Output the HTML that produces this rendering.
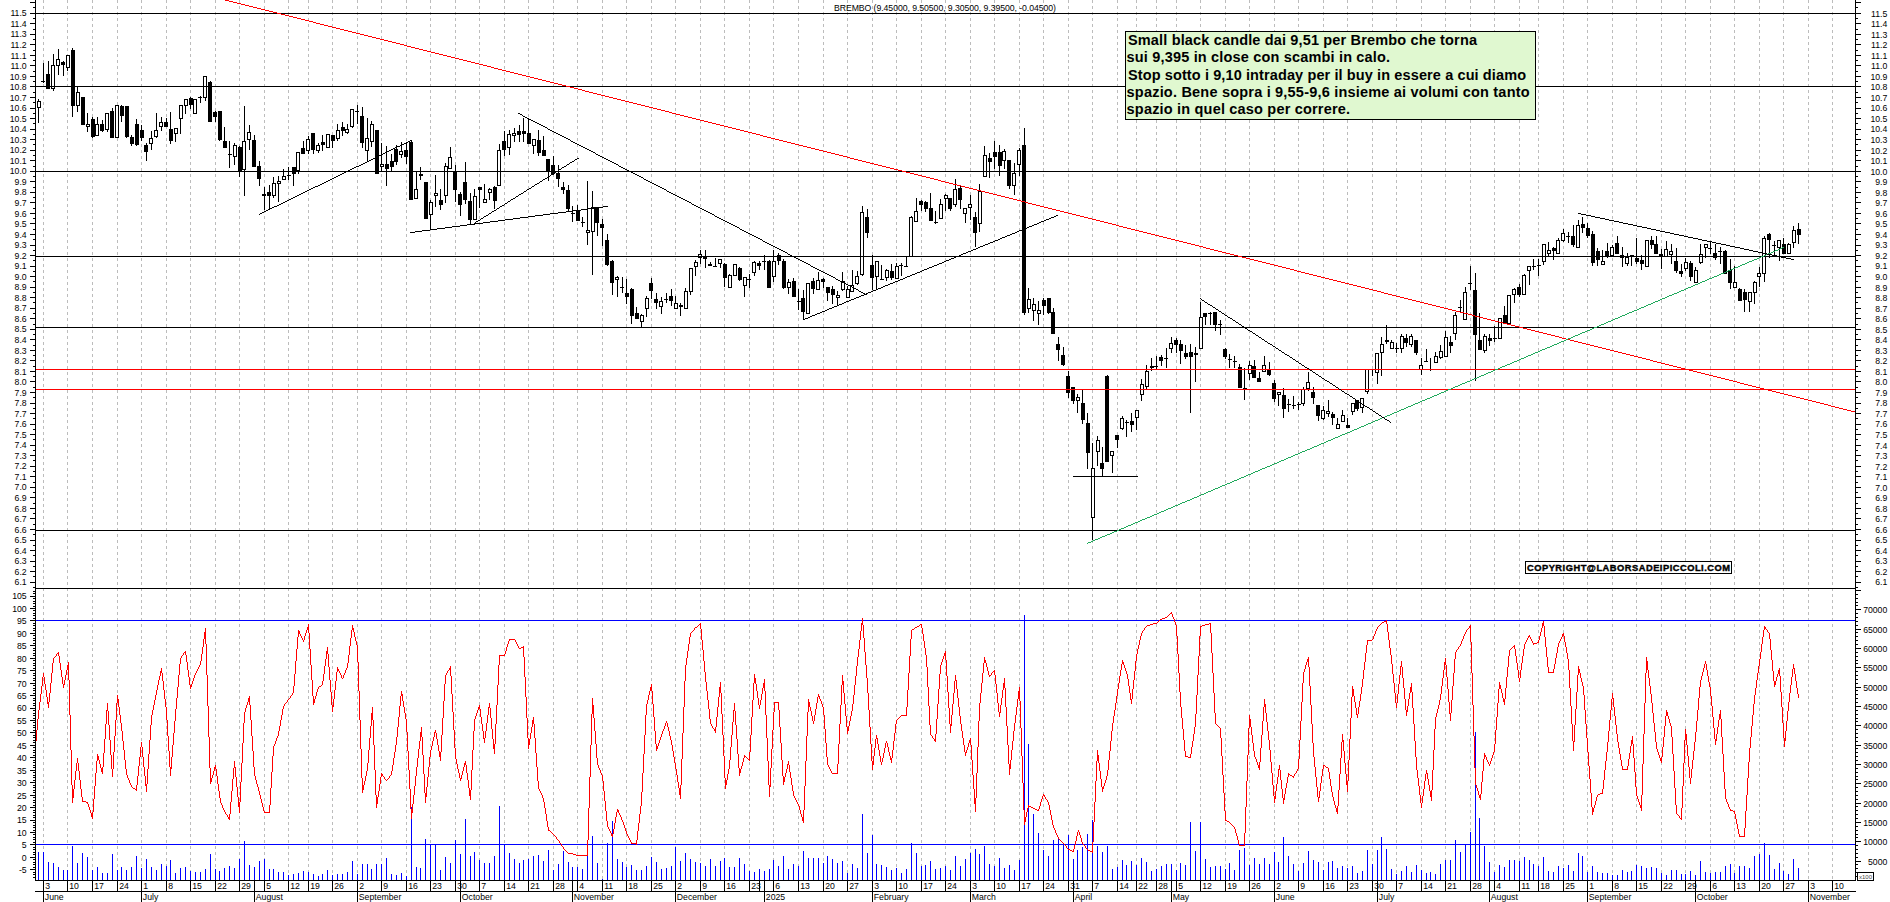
<!DOCTYPE html>
<html><head><meta charset="utf-8"><title>BREMBO</title>
<style>
html,body{margin:0;padding:0;background:#fff;overflow:hidden}
svg{display:block}
text{font-family:"Liberation Sans",Arial,sans-serif}
.ax text,text.ax{font-size:8.7px;fill:#000}
.tb{font-size:14.5px;font-weight:bold;fill:#000}
.cp{font-size:9.3px;font-weight:bold;fill:#000;stroke:#000;stroke-width:0.4}
</style></head><body>
<svg width="1890" height="902" viewBox="0 0 1890 902" shape-rendering="crispEdges">
<rect width="1890" height="902" fill="#fff"/>
<path d="M43.5 0V880 M67.5 0V880 M92.5 0V880 M117.5 0V880 M141.5 0V880 M166.5 0V880 M190.5 0V880 M215.5 0V880 M239.5 0V880 M264.5 0V880 M288.5 0V880 M308.5 0V880 M332.5 0V880 M357.5 0V880 M381.5 0V880 M406.5 0V880 M430.5 0V880 M455.5 0V880 M479.5 0V880 M504.5 0V880 M528.5 0V880 M553.5 0V880 M577.5 0V880 M602.5 0V880 M626.5 0V880 M651.5 0V880 M675.5 0V880 M700.5 0V880 M724.5 0V880 M749.5 0V880 M773.5 0V880 M798.5 0V880 M823.5 0V880 M847.5 0V880 M872.5 0V880 M896.5 0V880 M921.5 0V880 M945.5 0V880 M970.5 0V880 M994.5 0V880 M1019.5 0V880 M1043.5 0V880 M1068.5 0V880 M1092.5 0V880 M1117.5 0V880 M1136.5 0V880 M1156.5 0V880 M1176.5 0V880 M1200.5 0V880 M1225.5 0V880 M1249.5 0V880 M1274.5 0V880 M1298.5 0V880 M1323.5 0V880 M1347.5 0V880 M1372.5 0V880 M1396.5 0V880 M1421.5 0V880 M1445.5 0V880 M1470.5 0V880 M1494.5 0V880 M1519.5 0V880 M1538.5 0V880 M1563.5 0V880 M1587.5 0V880 M1612.5 0V880 M1636.5 0V880 M1661.5 0V880 M1685.5 0V880 M1710.5 0V880 M1734.5 0V880 M1759.5 0V880 M1783.5 0V880 M1808.5 0V880 M1832.5 0V880" stroke="#bcbcbc" stroke-width="1" stroke-dasharray="3 3" fill="none"/>
<path d="M38 99h1v24h-1zM43 63h1v20h-1zM48 61h1v28h-1zM53 54h1v37h-1zM58 49h1v26h-1zM63 61h1v15h-1zM67 55h1v16h-1zM72 48h1v69h-1zM77 87h1v25h-1zM82 97h1v28h-1zM87 113h1v19h-1zM92 117h1v21h-1zM97 117h1v19h-1zM102 120h1v12h-1zM107 113h1v19h-1zM112 108h1v30h-1zM117 105h1v33h-1zM121 105h1v17h-1zM126 106h1v32h-1zM131 135h1v11h-1zM136 119h1v27h-1zM141 125h1v16h-1zM146 143h1v18h-1zM151 131h1v19h-1zM156 113h1v25h-1zM161 117h1v14h-1zM166 118h1v9h-1zM170 112h1v32h-1zM175 128h1v14h-1zM180 105h1v29h-1zM185 99h1v15h-1zM190 97h1v12h-1zM195 99h1v15h-1zM200 96h1v7h-1zM205 76h1v25h-1zM210 81h1v41h-1zM215 111h1v11h-1zM219 111h1v30h-1zM224 127h1v21h-1zM229 141h1v27h-1zM234 143h1v22h-1zM239 146h1v31h-1zM244 106h1v90h-1zM249 125h1v25h-1zM254 135h1v32h-1zM259 161h1v25h-1zM264 187h1v23h-1zM269 185h1v25h-1zM273 177h1v21h-1zM278 176h1v26h-1zM283 169h1v11h-1zM288 167h1v13h-1zM293 167h1v19h-1zM298 152h1v22h-1zM303 141h1v13h-1zM308 136h1v18h-1zM313 133h1v21h-1zM318 143h1v10h-1zM322 135h1v16h-1zM327 134h1v14h-1zM332 135h1v13h-1zM337 124h1v17h-1zM342 122h1v14h-1zM347 124h1v10h-1zM352 109h1v19h-1zM357 105h1v19h-1zM362 107h1v41h-1zM367 118h1v44h-1zM371 121h1v26h-1zM376 130h1v44h-1zM381 143h1v29h-1zM386 146h1v40h-1zM391 154h1v18h-1zM396 145h1v20h-1zM401 142h1v16h-1zM406 142h1v22h-1zM411 140h1v60h-1zM416 171h1v28h-1zM420 167h1v13h-1zM425 182h1v37h-1zM430 200h1v29h-1zM435 175h1v32h-1zM440 189h1v21h-1zM445 163h1v40h-1zM450 147h1v22h-1zM455 165h1v37h-1zM460 192h1v24h-1zM465 162h1v42h-1zM470 193h1v31h-1zM474 189h1v31h-1zM479 187h1v21h-1zM484 184h1v19h-1zM489 188h1v12h-1zM494 186h1v23h-1zM499 144h1v42h-1zM504 131h1v25h-1zM509 130h1v25h-1zM514 128h1v14h-1zM519 125h1v17h-1zM523 118h1v24h-1zM528 118h1v26h-1zM533 139h1v15h-1zM538 130h1v26h-1zM543 136h1v20h-1zM548 159h1v22h-1zM553 156h1v19h-1zM558 165h1v22h-1zM563 182h1v12h-1zM568 185h1v27h-1zM572 206h1v16h-1zM577 205h1v16h-1zM582 217h1v10h-1zM587 181h1v64h-1zM592 191h1v84h-1zM597 207h1v29h-1zM602 219h1v27h-1zM607 234h1v32h-1zM612 260h1v35h-1zM617 276h1v21h-1zM622 277h1v16h-1zM626 279h1v25h-1zM631 288h1v36h-1zM636 307h1v12h-1zM641 314h1v13h-1zM646 296h1v21h-1zM651 278h1v21h-1zM656 293h1v16h-1zM661 297h1v17h-1zM666 293h1v10h-1zM671 289h1v17h-1zM675 296h1v13h-1zM680 303h1v13h-1zM685 288h1v21h-1zM690 268h1v27h-1zM695 260h1v16h-1zM700 250h1v14h-1zM705 250h1v18h-1zM710 262h1v4h-1zM715 258h1v9h-1zM720 259h1v9h-1zM724 263h1v24h-1zM729 274h1v14h-1zM734 264h1v12h-1zM739 267h1v14h-1zM744 277h1v20h-1zM749 274h1v14h-1zM754 261h1v15h-1zM759 261h1v9h-1zM764 255h1v15h-1zM769 260h1v28h-1zM773 250h1v32h-1zM778 253h1v12h-1zM783 259h1v30h-1zM788 279h1v15h-1zM793 278h1v19h-1zM798 289h1v21h-1zM803 290h1v30h-1zM808 283h1v31h-1zM813 278h1v16h-1zM818 272h1v18h-1zM823 278h1v10h-1zM827 287h1v14h-1zM832 286h1v18h-1zM837 291h1v15h-1zM842 272h1v19h-1zM847 286h1v12h-1zM852 270h1v22h-1zM857 271h1v14h-1zM862 206h1v70h-1zM867 209h1v29h-1zM872 255h1v35h-1zM876 261h1v29h-1zM881 265h1v15h-1zM886 269h1v12h-1zM891 264h1v16h-1zM896 263h1v16h-1zM901 263h1v13h-1zM906 256h1v11h-1zM911 216h1v41h-1zM916 198h1v24h-1zM921 200h1v11h-1zM925 201h1v11h-1zM930 193h1v28h-1zM935 211h1v13h-1zM940 199h1v20h-1zM945 194h1v17h-1zM950 198h1v13h-1zM955 179h1v28h-1zM960 186h1v23h-1zM965 208h1v15h-1zM970 195h1v25h-1zM975 212h1v35h-1zM979 184h1v48h-1zM984 146h1v31h-1zM989 153h1v25h-1zM994 141h1v28h-1zM999 145h1v31h-1zM1004 149h1v20h-1zM1009 160h1v29h-1zM1014 163h1v32h-1zM1019 148h1v28h-1zM1024 128h1v187h-1zM1028 288h1v25h-1zM1033 298h1v23h-1zM1038 301h1v24h-1zM1043 298h1v17h-1zM1048 298h1v16h-1zM1053 308h1v26h-1zM1058 337h1v24h-1zM1063 347h1v19h-1zM1068 371h1v27h-1zM1073 387h1v17h-1zM1077 394h1v19h-1zM1082 390h1v34h-1zM1087 413h1v56h-1zM1092 443h1v97h-1zM1097 436h1v30h-1zM1102 447h1v29h-1zM1107 375h1v87h-1zM1112 451h1v22h-1zM1117 435h1v13h-1zM1122 416h1v14h-1zM1126 420h1v17h-1zM1131 413h1v19h-1zM1136 410h1v20h-1zM1141 379h1v22h-1zM1146 365h1v24h-1zM1151 358h1v13h-1zM1156 356h1v14h-1zM1161 355h1v11h-1zM1166 348h1v20h-1zM1171 337h1v16h-1zM1176 338h1v15h-1zM1180 340h1v24h-1zM1185 345h1v14h-1zM1190 344h1v69h-1zM1195 347h1v35h-1zM1200 302h1v47h-1zM1205 313h1v12h-1zM1210 312h1v13h-1zM1215 312h1v19h-1zM1220 320h1v15h-1zM1225 348h1v11h-1zM1229 354h1v14h-1zM1234 356h1v12h-1zM1239 364h1v24h-1zM1244 368h1v32h-1zM1249 361h1v19h-1zM1254 360h1v18h-1zM1259 372h1v10h-1zM1264 356h1v16h-1zM1269 362h1v14h-1zM1274 380h1v22h-1zM1278 392h1v14h-1zM1283 388h1v30h-1zM1288 399h1v13h-1zM1293 396h1v13h-1zM1298 402h1v8h-1zM1303 387h1v19h-1zM1308 372h1v19h-1zM1313 387h1v17h-1zM1318 405h1v16h-1zM1323 406h1v14h-1zM1328 400h1v17h-1zM1332 412h1v13h-1zM1337 418h1v11h-1zM1342 410h1v12h-1zM1347 418h1v10h-1zM1352 403h1v12h-1zM1357 400h1v11h-1zM1362 398h1v15h-1zM1367 369h1v25h-1zM1372 369h1v7h-1zM1377 353h1v31h-1zM1381 337h1v39h-1zM1386 325h1v19h-1zM1391 340h1v9h-1zM1396 343h1v10h-1zM1401 334h1v19h-1zM1406 334h1v13h-1zM1411 334h1v13h-1zM1416 340h1v15h-1zM1421 358h1v17h-1zM1426 349h1v13h-1zM1430 358h1v13h-1zM1435 352h1v11h-1zM1440 345h1v14h-1zM1445 331h1v26h-1zM1450 336h1v17h-1zM1455 312h1v28h-1zM1460 300h1v13h-1zM1465 287h1v33h-1zM1470 266h1v24h-1zM1475 273h1v108h-1zM1479 313h1v37h-1zM1484 334h1v19h-1zM1489 334h1v12h-1zM1494 326h1v16h-1zM1499 318h1v21h-1zM1504 306h1v18h-1zM1509 295h1v29h-1zM1514 288h1v15h-1zM1519 284h1v13h-1zM1524 274h1v21h-1zM1529 266h1v19h-1zM1533 259h1v11h-1zM1538 259h1v17h-1zM1543 244h1v21h-1zM1548 242h1v14h-1zM1553 247h1v13h-1zM1558 238h1v16h-1zM1563 229h1v13h-1zM1568 232h1v11h-1zM1573 225h1v22h-1zM1578 220h1v28h-1zM1582 217h1v16h-1zM1587 223h1v15h-1zM1592 231h1v35h-1zM1597 248h1v18h-1zM1602 250h1v15h-1zM1607 243h1v15h-1zM1612 245h1v11h-1zM1617 236h1v18h-1zM1622 247h1v20h-1zM1627 253h1v13h-1zM1631 255h1v11h-1zM1636 238h1v26h-1zM1641 255h1v15h-1zM1646 240h1v27h-1zM1651 236h1v13h-1zM1656 236h1v18h-1zM1661 249h1v20h-1zM1666 241h1v16h-1zM1671 244h1v20h-1zM1676 248h1v25h-1zM1681 264h1v13h-1zM1685 258h1v13h-1zM1690 261h1v20h-1zM1695 267h1v16h-1zM1700 244h1v20h-1zM1705 244h1v14h-1zM1710 242h1v12h-1zM1715 244h1v16h-1zM1720 247h1v17h-1zM1725 250h1v24h-1zM1730 259h1v30h-1zM1734 266h1v22h-1zM1739 288h1v13h-1zM1744 289h1v23h-1zM1749 292h1v20h-1zM1754 281h1v23h-1zM1759 267h1v20h-1zM1764 236h1v46h-1zM1769 233h1v25h-1zM1774 241h1v15h-1zM1779 240h1v21h-1zM1783 238h1v16h-1zM1788 243h1v11h-1zM1793 226h1v22h-1zM1798 223h1v21h-1z" fill="#000"/>
<path d="M37 101h4v7h-4zM41 81h4v1h-4zM46 74h4v15h-4zM51 65h4v24h-4zM56 59h4v7h-4zM61 62h4v3h-4zM66 55h4v13h-4zM71 50h4v56h-4zM76 92h4v14h-4zM81 97h4v28h-4zM86 124h4v3h-4zM91 119h4v18h-4zM95 124h4v12h-4zM100 124h4v7h-4zM105 113h4v17h-4zM110 111h4v27h-4zM115 105h4v33h-4zM120 106h4v10h-4zM125 106h4v31h-4zM130 137h4v7h-4zM135 124h4v21h-4zM140 130h4v8h-4zM144 145h4v7h-4zM149 138h4v6h-4zM154 130h4v7h-4zM159 122h4v5h-4zM164 122h4v5h-4zM169 129h4v12h-4zM174 128h4v6h-4zM179 105h4v14h-4zM184 99h4v7h-4zM189 98h4v7h-4zM193 99h4v15h-4zM198 97h4v1h-4zM203 76h4v22h-4zM208 82h4v40h-4zM213 112h4v5h-4zM218 111h4v29h-4zM223 141h4v7h-4zM228 154h4v1h-4zM233 145h4v12h-4zM238 147h4v24h-4zM242 141h4v29h-4zM247 132h4v8h-4zM252 140h4v27h-4zM257 166h4v13h-4zM262 194h4v2h-4zM267 192h4v4h-4zM272 183h4v13h-4zM277 181h4v3h-4zM282 176h4v4h-4zM287 175h4v1h-4zM292 167h4v7h-4zM296 152h4v19h-4zM301 148h4v6h-4zM306 139h4v12h-4zM311 133h4v17h-4zM316 145h4v6h-4zM321 142h4v3h-4zM326 134h4v14h-4zM331 135h4v6h-4zM336 130h4v9h-4zM341 127h4v4h-4zM345 129h4v4h-4zM350 109h4v18h-4zM355 111h4v1h-4zM360 116h4v27h-4zM365 138h4v13h-4zM370 124h4v18h-4zM375 130h4v44h-4zM380 164h4v3h-4zM385 164h4v5h-4zM390 161h4v6h-4zM394 149h4v13h-4zM399 151h4v4h-4zM404 150h4v7h-4zM409 142h4v58h-4zM414 189h4v10h-4zM419 174h4v2h-4zM424 182h4v37h-4zM429 202h4v13h-4zM434 193h4v3h-4zM439 200h4v5h-4zM444 166h4v30h-4zM448 157h4v12h-4zM453 171h4v19h-4zM458 194h4v11h-4zM463 182h4v18h-4zM468 201h4v19h-4zM473 196h4v24h-4zM478 187h4v3h-4zM483 199h4v4h-4zM488 189h4v4h-4zM493 187h4v14h-4zM497 150h4v36h-4zM502 141h4v9h-4zM507 134h4v14h-4zM512 133h4v3h-4zM517 131h4v4h-4zM522 131h4v3h-4zM527 133h4v11h-4zM532 139h4v7h-4zM537 140h4v13h-4zM542 150h4v6h-4zM546 159h4v12h-4zM551 165h4v9h-4zM556 173h4v6h-4zM561 187h4v3h-4zM566 190h4v19h-4zM571 213h4v1h-4zM576 210h4v11h-4zM581 222h4v1h-4zM586 230h4v3h-4zM591 207h4v25h-4zM595 207h4v16h-4zM600 224h4v4h-4zM605 240h4v25h-4zM610 261h4v22h-4zM615 277h4v3h-4zM620 287h4v1h-4zM625 293h4v4h-4zM630 289h4v27h-4zM635 313h4v6h-4zM640 315h4v7h-4zM645 298h4v11h-4zM649 283h4v8h-4zM654 299h4v4h-4zM659 301h4v6h-4zM664 299h4v1h-4zM669 296h4v5h-4zM674 303h4v6h-4zM679 305h4v2h-4zM684 291h4v18h-4zM689 268h4v24h-4zM694 262h4v5h-4zM698 254h4v4h-4zM703 256h4v3h-4zM708 264h4v2h-4zM713 266h4v1h-4zM718 259h4v5h-4zM723 264h4v14h-4zM728 275h4v13h-4zM733 264h4v12h-4zM738 268h4v12h-4zM743 277h4v9h-4zM747 279h4v1h-4zM752 262h4v11h-4zM757 263h4v3h-4zM762 261h4v1h-4zM767 261h4v27h-4zM772 261h4v16h-4zM777 255h4v6h-4zM782 261h4v27h-4zM787 282h4v6h-4zM792 281h4v16h-4zM797 301h4v1h-4zM801 298h4v14h-4zM806 283h4v31h-4zM811 281h4v8h-4zM816 280h4v10h-4zM821 279h4v3h-4zM826 287h4v6h-4zM831 289h4v6h-4zM836 295h4v3h-4zM841 281h4v9h-4zM846 289h4v9h-4zM850 285h4v7h-4zM855 276h4v8h-4zM860 212h4v63h-4zM865 217h4v16h-4zM870 265h4v13h-4zM875 261h4v16h-4zM880 279h4v1h-4zM885 270h4v8h-4zM890 271h4v7h-4zM895 266h4v13h-4zM899 265h4v1h-4zM904 266h4v1h-4zM909 217h4v40h-4zM914 211h4v11h-4zM919 201h4v4h-4zM924 202h4v7h-4zM929 208h4v13h-4zM934 222h4v1h-4zM939 204h4v15h-4zM944 195h4v4h-4zM948 198h4v11h-4zM953 189h4v16h-4zM958 188h4v12h-4zM963 208h4v6h-4zM968 204h4v4h-4zM973 217h4v16h-4zM978 191h4v33h-4zM983 155h4v22h-4zM988 158h4v4h-4zM993 152h4v5h-4zM998 152h4v14h-4zM1002 151h4v10h-4zM1007 160h4v26h-4zM1012 173h4v13h-4zM1017 150h4v15h-4zM1022 145h4v168h-4zM1027 299h4v10h-4zM1032 304h4v7h-4zM1037 310h4v4h-4zM1042 300h4v6h-4zM1047 298h4v15h-4zM1051 312h4v22h-4zM1056 344h4v6h-4zM1061 355h4v10h-4zM1066 376h4v17h-4zM1071 387h4v14h-4zM1076 397h4v4h-4zM1081 403h4v17h-4zM1086 423h4v30h-4zM1091 468h4v50h-4zM1096 440h4v12h-4zM1100 463h4v6h-4zM1105 376h4v86h-4zM1110 451h4v5h-4zM1115 435h4v5h-4zM1120 418h4v11h-4zM1125 422h4v1h-4zM1130 421h4v4h-4zM1135 410h4v8h-4zM1140 384h4v11h-4zM1145 371h4v16h-4zM1150 366h4v2h-4zM1154 366h4v1h-4zM1159 357h4v4h-4zM1164 358h4v1h-4zM1169 343h4v6h-4zM1174 340h4v5h-4zM1179 344h4v7h-4zM1184 353h4v4h-4zM1189 352h4v5h-4zM1194 353h4v2h-4zM1199 317h4v32h-4zM1203 313h4v4h-4zM1208 313h4v1h-4zM1213 312h4v13h-4zM1218 324h4v1h-4zM1223 349h4v8h-4zM1228 359h4v1h-4zM1233 361h4v1h-4zM1238 367h4v21h-4zM1243 388h4v2h-4zM1248 365h4v9h-4zM1252 366h4v12h-4zM1257 378h4v4h-4zM1262 365h4v7h-4zM1267 369h4v6h-4zM1272 383h4v16h-4zM1277 392h4v3h-4zM1282 395h4v14h-4zM1287 404h4v1h-4zM1292 405h4v1h-4zM1297 404h4v1h-4zM1301 389h4v15h-4zM1306 382h4v7h-4zM1311 392h4v6h-4zM1316 405h4v11h-4zM1321 410h4v9h-4zM1326 411h4v3h-4zM1331 414h4v4h-4zM1336 424h4v5h-4zM1341 415h4v7h-4zM1346 425h4v3h-4zM1351 403h4v9h-4zM1355 400h4v9h-4zM1360 398h4v10h-4zM1365 369h4v23h-4zM1375 353h4v20h-4zM1380 344h4v9h-4zM1385 340h4v2h-4zM1390 342h4v7h-4zM1395 348h4v1h-4zM1400 336h4v13h-4zM1404 338h4v5h-4zM1409 336h4v9h-4zM1414 340h4v13h-4zM1419 365h4v5h-4zM1424 361h4v1h-4zM1434 356h4v7h-4zM1439 351h4v7h-4zM1444 337h4v20h-4zM1449 342h4v4h-4zM1453 315h4v19h-4zM1458 307h4v1h-4zM1463 292h4v28h-4zM1468 283h4v1h-4zM1473 290h4v45h-4zM1478 340h4v10h-4zM1483 336h4v15h-4zM1488 338h4v3h-4zM1493 338h4v1h-4zM1498 318h4v21h-4zM1503 315h4v8h-4zM1507 295h4v29h-4zM1512 289h4v6h-4zM1517 287h4v8h-4zM1522 275h4v20h-4zM1527 266h4v5h-4zM1532 266h4v1h-4zM1537 265h4v1h-4zM1542 244h4v18h-4zM1547 250h4v4h-4zM1552 248h4v3h-4zM1556 240h4v14h-4zM1561 233h4v8h-4zM1566 236h4v1h-4zM1571 236h4v9h-4zM1576 225h4v23h-4zM1581 224h4v4h-4zM1586 228h4v8h-4zM1591 234h4v29h-4zM1596 251h4v9h-4zM1601 261h4v4h-4zM1605 251h4v5h-4zM1610 247h4v9h-4zM1615 243h4v11h-4zM1620 255h4v3h-4zM1625 257h4v7h-4zM1630 255h4v1h-4zM1635 258h4v4h-4zM1640 260h4v4h-4zM1645 240h4v27h-4zM1650 240h4v5h-4zM1654 244h4v10h-4zM1659 254h4v2h-4zM1664 249h4v8h-4zM1669 251h4v4h-4zM1674 261h4v10h-4zM1679 271h4v3h-4zM1684 262h4v7h-4zM1689 263h4v14h-4zM1694 270h4v13h-4zM1699 254h4v9h-4zM1704 244h4v4h-4zM1708 248h4v1h-4zM1713 253h4v5h-4zM1718 251h4v1h-4zM1723 251h4v23h-4zM1728 270h4v13h-4zM1733 282h4v6h-4zM1738 289h4v12h-4zM1743 292h4v8h-4zM1748 292h4v10h-4zM1753 282h4v11h-4zM1757 273h4v4h-4zM1762 238h4v36h-4zM1767 234h4v6h-4zM1772 245h4v1h-4zM1777 240h4v8h-4zM1782 244h4v10h-4zM1787 244h4v10h-4zM1792 230h4v13h-4zM1797 229h4v6h-4z" fill="#000"/>
<path d="M38 102h2v5h-2zM52 66h2v22h-2zM57 60h2v5h-2zM67 56h2v11h-2zM77 93h2v12h-2zM87 125h2v1h-2zM96 125h2v10h-2zM106 114h2v15h-2zM116 106h2v31h-2zM150 139h2v4h-2zM155 131h2v5h-2zM160 123h2v3h-2zM175 129h2v4h-2zM180 106h2v12h-2zM185 100h2v5h-2zM194 100h2v13h-2zM204 77h2v20h-2zM234 146h2v10h-2zM243 142h2v27h-2zM248 133h2v6h-2zM273 184h2v11h-2zM278 182h2v1h-2zM283 177h2v2h-2zM297 153h2v17h-2zM307 140h2v10h-2zM317 146h2v4h-2zM327 135h2v12h-2zM337 131h2v7h-2zM346 130h2v2h-2zM351 110h2v16h-2zM366 139h2v11h-2zM371 125h2v16h-2zM381 165h2v1h-2zM400 152h2v2h-2zM415 190h2v8h-2zM430 203h2v11h-2zM435 194h2v1h-2zM445 167h2v28h-2zM449 158h2v10h-2zM474 197h2v22h-2zM484 200h2v2h-2zM489 190h2v2h-2zM498 151h2v34h-2zM508 135h2v12h-2zM513 134h2v1h-2zM533 140h2v5h-2zM587 231h2v1h-2zM592 208h2v23h-2zM616 278h2v1h-2zM641 316h2v5h-2zM646 299h2v9h-2zM660 302h2v4h-2zM675 304h2v4h-2zM685 292h2v16h-2zM690 269h2v22h-2zM695 263h2v3h-2zM699 255h2v2h-2zM719 260h2v3h-2zM729 276h2v11h-2zM734 265h2v10h-2zM744 278h2v7h-2zM753 263h2v9h-2zM773 262h2v14h-2zM788 283h2v4h-2zM807 284h2v29h-2zM817 281h2v8h-2zM837 296h2v1h-2zM842 282h2v7h-2zM847 290h2v7h-2zM851 286h2v5h-2zM856 277h2v6h-2zM861 213h2v61h-2zM876 262h2v14h-2zM886 271h2v6h-2zM896 267h2v11h-2zM910 218h2v38h-2zM915 212h2v9h-2zM940 205h2v13h-2zM945 196h2v2h-2zM954 190h2v14h-2zM964 209h2v4h-2zM969 205h2v2h-2zM979 192h2v31h-2zM984 156h2v20h-2zM1003 152h2v8h-2zM1013 174h2v11h-2zM1018 151h2v13h-2zM1028 300h2v8h-2zM1033 305h2v5h-2zM1038 311h2v2h-2zM1077 398h2v2h-2zM1092 469h2v48h-2zM1097 441h2v10h-2zM1111 452h2v3h-2zM1121 419h2v9h-2zM1136 411h2v6h-2zM1141 385h2v9h-2zM1146 372h2v14h-2zM1170 344h2v4h-2zM1200 318h2v30h-2zM1249 366h2v7h-2zM1263 366h2v5h-2zM1278 393h2v1h-2zM1302 390h2v13h-2zM1307 383h2v5h-2zM1322 411h2v7h-2zM1327 412h2v1h-2zM1337 425h2v3h-2zM1342 416h2v5h-2zM1352 404h2v7h-2zM1361 399h2v8h-2zM1366 370h2v21h-2zM1376 354h2v18h-2zM1381 345h2v7h-2zM1391 343h2v5h-2zM1401 337h2v11h-2zM1410 337h2v7h-2zM1420 366h2v3h-2zM1435 357h2v5h-2zM1440 352h2v5h-2zM1445 338h2v18h-2zM1454 316h2v17h-2zM1464 293h2v26h-2zM1484 337h2v13h-2zM1499 319h2v19h-2zM1508 296h2v27h-2zM1513 290h2v4h-2zM1523 276h2v18h-2zM1528 267h2v3h-2zM1543 245h2v16h-2zM1548 251h2v2h-2zM1557 241h2v12h-2zM1562 234h2v6h-2zM1577 226h2v21h-2zM1602 262h2v2h-2zM1611 248h2v7h-2zM1626 258h2v5h-2zM1646 241h2v25h-2zM1665 250h2v6h-2zM1670 252h2v2h-2zM1685 263h2v5h-2zM1695 271h2v11h-2zM1700 255h2v7h-2zM1705 245h2v2h-2zM1734 283h2v4h-2zM1749 293h2v8h-2zM1754 283h2v9h-2zM1758 274h2v2h-2zM1763 239h2v34h-2zM1778 241h2v6h-2zM1788 245h2v8h-2zM1793 231h2v11h-2z" fill="#fff"/>
<rect x="35" y="13" width="1821" height="1" fill="#000"/>
<rect x="35" y="86" width="1821" height="1" fill="#000"/>
<rect x="35" y="171" width="1821" height="1" fill="#000"/>
<rect x="35" y="256" width="1821" height="1" fill="#000"/>
<rect x="35" y="327" width="1821" height="1" fill="#000"/>
<rect x="35" y="530" width="1821" height="1" fill="#000"/>
<rect x="35" y="369" width="1821" height="1" fill="#f00"/>
<rect x="35" y="389" width="1821" height="1" fill="#f00"/>
<rect x="35" y="588" width="1821" height="1" fill="#000"/>
<rect x="35" y="620" width="1820" height="1" fill="#00f"/>
<rect x="35" y="844" width="1820" height="1" fill="#00f"/>
<path d="M700 120h4v1h-4zM886 167h4v1h-4zM1127 228h4v1h-4zM1313 275h4v1h-4zM704 121h4v1h-4zM1740 383h4v1h-4zM384 40h4v1h-4zM1420 302h4v1h-4zM570 87h4v1h-4zM811 148h4v1h-4zM934 179h4v1h-4zM1847 410h4v1h-4zM997 195h4v1h-4zM1238 256h4v1h-4zM1424 303h4v1h-4zM1104 222h4v1h-4zM494 68h4v1h-4zM617 99h4v1h-4zM1531 330h4v1h-4zM680 115h4v1h-4zM1044 207h4v1h-4zM435 53h4v1h-4zM301 19h4v1h-4zM1337 281h4v1h-4zM1408 299h4v1h-4zM728 127h4v1h-4zM1764 389h4v1h-4zM914 174h4v1h-4zM1155 235h4v1h-4zM1341 282h4v1h-4zM787 142h4v1h-4zM1021 201h4v1h-4zM1824 404h4v1h-4zM411 47h4v1h-4zM1214 250h4v1h-4zM534 78h4v1h-4zM1448 309h4v1h-4zM1642 358h4v1h-4zM961 186h4v1h-4zM352 32h4v1h-4zM277 13h4v1h-4zM1507 324h4v1h-4zM1131 229h4v1h-4zM1254 260h4v1h-4zM1325 278h4v1h-4zM645 106h4v1h-4zM1681 368h4v1h-4zM1072 214h4v1h-4zM388 41h4v1h-4zM938 180h3v1h-3zM328 26h4v1h-4zM1365 288h4v1h-4zM1559 337h3v1h-3zM1792 396h4v1h-4zM1665 364h4v1h-4zM815 149h4v1h-4zM1851 411h4v1h-4zM1171 239h4v1h-4zM1242 257h4v1h-4zM562 85h4v1h-4zM989 193h4v1h-4zM1535 331h4v1h-4zM245 5h4v1h-4zM1048 208h4v1h-4zM672 113h4v1h-4zM1475 316h4v1h-4zM1582 343h4v1h-4zM732 128h4v1h-4zM1768 390h4v1h-4zM1159 236h4v1h-4zM839 155h4v1h-4zM1266 263h4v1h-4zM1452 310h4v1h-4zM1693 371h4v1h-4zM1816 402h4v1h-4zM522 75h4v1h-4zM589 92h4v1h-4zM1258 261h4v1h-4zM1499 322h4v1h-4zM1562 338h4v1h-4zM1685 369h4v1h-4zM1076 215h4v1h-4zM756 134h4v1h-4zM1183 242h4v1h-4zM1369 289h4v1h-4zM1610 350h4v1h-4zM1796 397h4v1h-4zM439 54h4v1h-4zM866 162h4v1h-4zM380 39h4v1h-4zM1416 301h4v1h-4zM807 147h4v1h-4zM550 82h4v1h-4zM1709 375h4v1h-4zM1780 393h4v1h-4zM1100 221h4v1h-4zM1527 329h4v1h-4zM356 33h4v1h-4zM1392 295h4v1h-4zM783 141h4v1h-4zM1586 344h4v1h-4zM906 172h4v1h-4zM1820 403h4v1h-4zM297 18h4v1h-4zM1210 249h4v1h-4zM1333 280h4v1h-4zM724 126h4v1h-4zM649 107h4v1h-4zM467 61h4v1h-4zM1503 323h4v1h-4zM1626 354h4v1h-4zM1697 372h4v1h-4zM1017 200h4v1h-4zM407 46h4v1h-4zM1444 308h4v1h-4zM273 12h4v1h-4zM506 71h4v1h-4zM1614 351h4v1h-4zM324 25h4v1h-4zM1361 287h4v1h-4zM1713 376h4v1h-4zM1638 357h4v1h-4zM1028 203h4v1h-4zM894 169h4v1h-4zM285 15h4v1h-4zM835 154h4v1h-4zM1630 355h4v1h-4zM1262 262h4v1h-4zM518 74h4v1h-4zM641 105h4v1h-4zM1555 336h4v1h-4zM945 182h4v1h-4zM1068 213h4v1h-4zM1495 321h4v1h-4zM752 133h4v1h-4zM1788 395h4v1h-4zM1179 241h4v1h-4zM922 176h4v1h-4zM1472 315h3v1h-3zM862 161h4v1h-4zM1278 266h4v1h-4zM669 112h3v1h-3zM1705 374h4v1h-4zM1096 220h4v1h-4zM1388 294h4v1h-4zM779 140h4v1h-4zM459 59h4v1h-4zM878 165h4v1h-4zM1305 273h4v1h-4zM696 119h4v1h-4zM1733 381h4v1h-4zM376 38h4v1h-4zM487 66h4v1h-4zM546 81h4v1h-4zM973 189h4v1h-4zM293 17h4v1h-4zM1400 297h4v1h-4zM1523 328h4v1h-4zM229 1h4v1h-4zM657 109h4v1h-4zM404 45h3v1h-3zM1206 248h4v1h-4zM1634 356h4v1h-4zM269 11h4v1h-4zM463 60h4v1h-4zM890 168h4v1h-4zM1123 227h4v1h-4zM1013 199h4v1h-4zM1317 276h4v1h-4zM1440 307h4v1h-4zM574 88h4v1h-4zM1551 335h4v1h-4zM257 8h4v1h-4zM1230 254h4v1h-4zM1294 270h3v1h-3zM1843 409h4v1h-4zM1234 255h4v1h-4zM491 67h3v1h-3zM1040 206h4v1h-4zM1468 314h4v1h-4zM1760 388h4v1h-4zM1151 234h4v1h-4zM831 153h4v1h-4zM1250 259h4v1h-4zM1677 367h4v1h-4zM1001 196h4v1h-4zM1428 304h4v1h-4zM748 132h4v1h-4zM1855 412h1v1h-1zM431 52h4v1h-4zM858 160h4v1h-4zM1661 363h4v1h-4zM918 175h4v1h-4zM542 80h4v1h-4zM1345 283h4v1h-4zM665 111h4v1h-4zM1772 391h4v1h-4zM348 31h4v1h-4zM1384 293h4v1h-4zM775 139h4v1h-4zM1578 342h4v1h-4zM582 90h3v1h-3zM1689 370h4v1h-4zM1812 401h4v1h-4zM265 10h4v1h-4zM692 118h4v1h-4zM1602 348h4v1h-4zM1606 349h4v1h-4zM609 97h4v1h-4zM1412 300h4v1h-4zM1839 408h4v1h-4zM1519 327h4v1h-4zM1203 247h3v1h-3zM593 93h4v1h-4zM716 124h4v1h-4zM400 44h4v1h-4zM1436 306h4v1h-4zM827 152h4v1h-4zM1622 353h4v1h-4zM1373 290h4v1h-4zM1800 398h4v1h-4zM1119 226h4v1h-4zM510 72h4v1h-4zM1547 334h4v1h-4zM803 146h4v1h-4zM316 23h4v1h-4zM1657 362h4v1h-4zM1290 269h4v1h-4zM1717 377h4v1h-4zM1036 205h4v1h-4zM427 51h4v1h-4zM854 159h4v1h-4zM720 125h4v1h-4zM233 2h4v1h-4zM1147 233h4v1h-4zM1574 341h4v1h-4zM597 94h4v1h-4zM953 184h4v1h-4zM344 30h4v1h-4zM514 73h4v1h-4zM637 104h4v1h-4zM1744 384h4v1h-4zM1064 212h4v1h-4zM320 24h4v1h-4zM870 163h4v1h-4zM941 181h4v1h-4zM621 100h4v1h-4zM554 83h4v1h-4zM981 191h4v1h-4zM1784 394h4v1h-4zM1282 267h4v1h-4zM538 79h4v1h-4zM965 187h4v1h-4zM1088 218h4v1h-4zM771 138h4v1h-4zM1808 400h4v1h-4zM1199 246h4v1h-4zM455 58h4v1h-4zM1491 320h4v1h-4zM882 166h4v1h-4zM1005 197h4v1h-4zM1309 274h4v1h-4zM1175 240h4v1h-4zM566 86h4v1h-4zM688 117h4v1h-4zM1725 379h4v1h-4zM1116 225h3v1h-3zM249 6h4v1h-4zM372 37h4v1h-4zM1286 268h4v1h-4zM1479 317h4v1h-4zM799 145h4v1h-4zM1835 407h4v1h-4zM1226 253h4v1h-4zM1092 219h4v1h-4zM483 65h4v1h-4zM1032 204h4v1h-4zM969 188h4v1h-4zM289 16h4v1h-4zM1396 296h4v1h-4zM1752 386h4v1h-4zM1143 232h4v1h-4zM1009 198h4v1h-4zM1737 382h3v1h-3zM993 194h4v1h-4zM1543 333h4v1h-4zM1653 361h4v1h-4zM910 173h4v1h-4zM1460 312h4v1h-4zM1570 340h4v1h-4zM1377 291h4v1h-4zM1060 211h4v1h-4zM451 57h4v1h-4zM1487 319h4v1h-4zM744 131h4v1h-4zM1598 347h4v1h-4zM241 4h4v1h-4zM1464 313h4v1h-4zM1404 298h4v1h-4zM661 110h4v1h-4zM1515 326h4v1h-4zM1432 305h4v1h-4zM261 9h4v1h-4zM368 36h4v1h-4zM479 64h4v1h-4zM396 43h4v1h-4zM1566 339h4v1h-4zM823 151h4v1h-4zM613 98h4v1h-4zM676 114h4v1h-4zM1776 392h4v1h-4zM423 50h4v1h-4zM850 158h4v1h-4zM530 77h4v1h-4zM1804 399h4v1h-4zM447 56h4v1h-4zM633 103h4v1h-4zM740 130h4v1h-4zM1167 238h4v1h-4zM558 84h4v1h-4zM1594 346h4v1h-4zM475 63h4v1h-4zM340 29h4v1h-4zM767 137h4v1h-4zM1195 245h4v1h-4zM1301 272h4v1h-4zM985 192h4v1h-4zM795 144h4v1h-4zM1831 406h4v1h-4zM1222 252h4v1h-4zM902 171h4v1h-4zM585 91h4v1h-4zM392 42h4v1h-4zM819 150h4v1h-4zM1112 224h4v1h-4zM502 70h4v1h-4zM1539 332h4v1h-4zM930 178h4v1h-4zM309 21h4v1h-4zM736 129h4v1h-4zM1650 360h3v1h-3zM419 49h4v1h-4zM1456 311h4v1h-4zM847 157h3v1h-3zM1756 387h4v1h-4zM336 28h4v1h-4zM1139 231h4v1h-4zM763 136h4v1h-4zM1673 366h4v1h-4zM1357 286h4v1h-4zM253 7h4v1h-4zM1590 345h4v1h-4zM237 3h4v1h-4zM1274 265h4v1h-4zM1701 373h4v1h-4zM957 185h4v1h-4zM471 62h4v1h-4zM898 170h4v1h-4zM1191 244h4v1h-4zM1618 352h4v1h-4zM874 164h4v1h-4zM1108 223h4v1h-4zM498 69h4v1h-4zM364 35h4v1h-4zM791 143h4v1h-4zM1218 251h4v1h-4zM1025 202h3v1h-3zM415 48h4v1h-4zM281 14h4v1h-4zM708 122h4v1h-4zM1135 230h4v1h-4zM1729 380h4v1h-4zM625 101h4v1h-4zM1052 209h4v1h-4zM926 177h4v1h-4zM1353 285h4v1h-4zM1646 359h4v1h-4zM1329 279h4v1h-4zM843 156h4v1h-4zM1270 264h4v1h-4zM526 76h4v1h-4zM1246 258h4v1h-4zM760 135h3v1h-3zM1187 243h4v1h-4zM443 55h4v1h-4zM1297 271h4v1h-4zM1163 237h4v1h-4zM653 108h4v1h-4zM1080 216h4v1h-4zM1381 292h3v1h-3zM949 183h4v1h-4zM1669 365h4v1h-4zM313 22h3v1h-3zM605 96h4v1h-4zM977 190h4v1h-4zM578 89h4v1h-4zM684 116h4v1h-4zM360 34h4v1h-4zM601 95h4v1h-4zM1321 277h4v1h-4zM712 123h4v1h-4zM629 102h4v1h-4zM1349 284h4v1h-4zM1056 210h4v1h-4zM1483 318h4v1h-4zM1084 217h4v1h-4zM1721 378h4v1h-4zM1828 405h3v1h-3zM1511 325h4v1h-4zM1748 385h4v1h-4zM225 0h4v1h-4zM305 20h4v1h-4zM332 27h4v1h-4z" fill="#f00"/>
<path d="M1390 414h2v1h-2zM1255 471h3v1h-3zM1674 293h3v1h-3zM1128 525h3v1h-3zM1467 381h3v1h-3zM1705 280h2v1h-2zM1159 512h2v1h-2zM1321 443h3v1h-3zM1502 366h3v1h-3zM1397 411h2v1h-2zM1578 334h2v1h-2zM1740 265h2v1h-2zM1194 497h3v1h-3zM1088 542h3v1h-3zM1608 321h3v1h-3zM1432 396h2v1h-2zM1225 484h2v1h-2zM1300 452h2v1h-2zM1119 529h2v1h-2zM1124 527h2v1h-2zM1462 383h3v1h-3zM1644 306h2v1h-2zM1538 351h2v1h-2zM1154 514h3v1h-3zM1335 437h3v1h-3zM1749 261h3v1h-3zM1679 291h2v1h-2zM1573 336h2v1h-2zM1366 424h2v1h-2zM1604 323h2v1h-2zM1239 478h2v1h-2zM1582 332h3v1h-3zM1295 454h3v1h-3zM1477 377h2v1h-2zM1093 540h2v1h-2zM1507 364h3v1h-3zM1688 287h3v1h-3zM1305 450h2v1h-2zM1542 349h3v1h-3zM1724 272h2v1h-2zM1234 480h3v1h-3zM1754 259h3v1h-3zM1312 447h2v1h-2zM1493 370h2v1h-2zM1655 301h3v1h-3zM1347 432h3v1h-3zM1528 355h3v1h-3zM1215 488h3v1h-3zM1766 254h2v1h-2zM1220 486h2v1h-2zM1559 342h2v1h-2zM1453 387h2v1h-2zM1458 385h2v1h-2zM1251 473h2v1h-2zM1594 327h3v1h-3zM1775 250h3v1h-3zM1488 372h3v1h-3zM1669 295h3v1h-3zM1286 458h2v1h-2zM1180 503h2v1h-2zM1361 426h3v1h-3zM1700 282h2v1h-2zM1498 368h2v1h-2zM1211 490h2v1h-2zM1392 413h2v1h-2zM1735 267h3v1h-3zM1190 499h2v1h-2zM1629 312h3v1h-3zM1427 398h3v1h-3zM1114 531h3v1h-3zM1639 308h2v1h-2zM1714 276h3v1h-3zM1150 516h2v1h-2zM1331 439h2v1h-2zM1568 338h3v1h-3zM1408 406h3v1h-3zM1262 468h3v1h-3zM1681 290h3v1h-3zM1135 522h3v1h-3zM1373 421h2v1h-2zM1554 344h3v1h-3zM1166 509h2v1h-2zM1404 408h2v1h-2zM1585 331h2v1h-2zM1747 262h2v1h-2zM1201 494h3v1h-3zM1382 417h3v1h-3zM1095 539h3v1h-3zM1277 462h2v1h-2zM1439 393h2v1h-2zM1620 316h2v1h-2zM1514 361h3v1h-3zM1307 449h3v1h-3zM1651 303h2v1h-2zM1105 535h2v1h-2zM1545 348h2v1h-2zM1726 271h2v1h-2zM1161 511h3v1h-3zM1342 434h3v1h-3zM1237 479h2v1h-2zM1524 357h2v1h-2zM1761 256h3v1h-3zM1448 389h3v1h-3zM1246 475h2v1h-2zM1302 451h3v1h-3zM1484 374h2v1h-2zM1665 297h2v1h-2zM1281 460h3v1h-3zM1175 505h3v1h-3zM1695 284h3v1h-3zM1519 359h2v1h-2zM1387 415h3v1h-3zM1731 269h2v1h-2zM1241 477h3v1h-3zM1422 400h3v1h-3zM1288 457h3v1h-3zM1500 367h2v1h-2zM1738 266h2v1h-2zM1192 498h2v1h-2zM1354 429h3v1h-3zM1535 352h3v1h-3zM1773 251h2v1h-2zM1227 483h3v1h-3zM1641 307h3v1h-3zM1646 305h2v1h-2zM1258 470h2v1h-2zM1495 369h3v1h-3zM1131 524h2v1h-2zM1677 292h2v1h-2zM1293 455h2v1h-2zM1474 378h3v1h-3zM1187 500h3v1h-3zM1368 423h3v1h-3zM1712 277h2v1h-2zM1399 410h2v1h-2zM1580 333h2v1h-2zM1742 264h3v1h-3zM1197 496h2v1h-2zM1637 309h2v1h-2zM1091 541h2v1h-2zM1272 464h2v1h-2zM1434 395h3v1h-3zM1615 318h3v1h-3zM1510 363h2v1h-2zM1126 526h2v1h-2zM1721 273h3v1h-3zM1157 513h2v1h-2zM1338 436h2v1h-2zM1575 335h3v1h-3zM1757 258h2v1h-2zM1267 466h3v1h-3zM1142 519h3v1h-3zM1380 418h2v1h-2zM1561 341h3v1h-3zM1253 472h2v1h-2zM1592 328h2v1h-2zM1208 491h3v1h-3zM1284 459h2v1h-2zM1465 382h2v1h-2zM1627 313h2v1h-2zM1702 281h3v1h-3zM1521 358h3v1h-3zM1319 444h2v1h-2zM1112 532h2v1h-2zM1733 268h2v1h-2zM1213 489h2v1h-2zM1350 431h2v1h-2zM1531 354h2v1h-2zM1425 399h2v1h-2zM1768 253h3v1h-3zM1222 485h3v1h-3zM1662 298h3v1h-3zM1460 384h2v1h-2zM1328 440h3v1h-3zM1152 515h2v1h-2zM1491 371h2v1h-2zM1672 294h2v1h-2zM1182 502h3v1h-3zM1364 425h2v1h-2zM1707 279h2v1h-2zM1601 324h3v1h-3zM1394 412h3v1h-3zM1218 487h2v1h-2zM1430 397h2v1h-2zM1121 528h3v1h-3zM1168 508h3v1h-3zM1618 317h2v1h-2zM1415 403h3v1h-3zM1653 302h2v1h-2zM1107 534h3v1h-3zM1446 390h2v1h-2zM1345 433h2v1h-2zM1684 289h2v1h-2zM1138 521h2v1h-2zM1375 420h3v1h-3zM1557 343h2v1h-2zM1719 274h2v1h-2zM1173 506h2v1h-2zM1248 474h3v1h-3zM1587 330h3v1h-3zM1411 405h2v1h-2zM1486 373h2v1h-2zM1098 538h2v1h-2zM1279 461h2v1h-2zM1102 536h3v1h-3zM1622 315h3v1h-3zM1517 360h2v1h-2zM1698 283h2v1h-2zM1133 523h2v1h-2zM1314 446h3v1h-3zM1728 270h3v1h-3zM1552 345h2v1h-2zM1244 476h2v1h-2zM1764 255h2v1h-2zM1274 463h3v1h-3zM1455 386h3v1h-3zM1147 517h3v1h-3zM1260 469h2v1h-2zM1441 392h3v1h-3zM1780 248h2v1h-2zM1472 379h2v1h-2zM1634 310h3v1h-3zM1709 278h3v1h-3zM1164 510h2v1h-2zM1326 441h2v1h-2zM1401 409h3v1h-3zM1745 263h2v1h-2zM1199 495h2v1h-2zM1613 319h2v1h-2zM1437 394h2v1h-2zM1230 482h2v1h-2zM1648 304h3v1h-3zM1340 435h2v1h-2zM1371 422h2v1h-2zM1406 407h2v1h-2zM1481 375h3v1h-3zM1310 448h2v1h-2zM1547 347h3v1h-3zM1413 404h2v1h-2zM1317 445h2v1h-2zM1660 299h2v1h-2zM1352 430h2v1h-2zM1533 353h2v1h-2zM1145 518h2v1h-2zM1771 252h2v1h-2zM1564 340h2v1h-2zM1418 402h2v1h-2zM1599 325h2v1h-2zM1110 533h2v1h-2zM1291 456h2v1h-2zM1185 501h2v1h-2zM1686 288h2v1h-2zM1140 520h2v1h-2zM1479 376h2v1h-2zM1378 419h2v1h-2zM1171 507h2v1h-2zM1333 438h2v1h-2zM1590 329h2v1h-2zM1752 260h2v1h-2zM1206 492h2v1h-2zM1100 537h2v1h-2zM1444 391h2v1h-2zM1625 314h2v1h-2zM1550 346h2v1h-2zM1782 247h2v1h-2zM1505 365h2v1h-2zM1667 296h2v1h-2zM1359 427h2v1h-2zM1540 350h2v1h-2zM1778 249h2v1h-2zM1232 481h2v1h-2zM1571 337h2v1h-2zM1470 380h2v1h-2zM1606 322h2v1h-2zM1117 530h2v1h-2zM1298 453h2v1h-2zM1717 275h2v1h-2zM1611 320h2v1h-2zM1566 339h2v1h-2zM1693 285h2v1h-2zM1385 416h2v1h-2zM1597 326h2v1h-2zM1759 257h2v1h-2zM1451 388h2v1h-2zM1632 311h2v1h-2zM1526 356h2v1h-2zM1324 442h2v1h-2zM1204 493h2v1h-2zM1420 401h2v1h-2zM1658 300h2v1h-2zM1178 504h2v1h-2zM1265 467h2v1h-2zM1512 362h2v1h-2zM1270 465h2v1h-2zM1357 428h2v1h-2zM1691 286h2v1h-2zM1087 543h1v1h-1z" fill="#1fa95b"/>
<path d="M410 140h2v1h-2zM320 184h2v1h-2zM359 165h2v1h-2zM268 209h2v1h-2zM330 179h2v1h-2zM369 160h2v1h-2zM277 205h2v1h-2zM371 159h2v1h-2zM279 204h2v1h-2zM318 185h2v1h-2zM377 156h2v1h-2zM285 201h2v1h-2zM379 155h2v1h-2zM328 180h2v1h-2zM387 151h2v1h-2zM334 177h2v1h-2zM336 176h2v1h-2zM287 200h2v1h-2zM281 203h2v1h-2zM346 171h2v1h-2zM385 152h2v1h-2zM293 197h2v1h-2zM383 153h2v1h-2zM395 147h2v1h-2zM303 192h2v1h-2zM305 191h2v1h-2zM393 148h2v1h-2zM340 174h2v1h-2zM311 188h2v1h-2zM262 212h2v1h-2zM348 170h2v1h-2zM299 194h2v1h-2zM266 210h2v1h-2zM397 146h3v1h-3zM307 190h2v1h-2zM408 141h2v1h-2zM315 186h3v1h-3zM356 166h3v1h-3zM264 211h2v1h-2zM365 162h2v1h-2zM367 161h2v1h-2zM274 206h3v1h-3zM406 142h2v1h-2zM373 158h2v1h-2zM404 143h2v1h-2zM324 182h2v1h-2zM326 181h2v1h-2zM332 178h2v1h-2zM375 157h2v1h-2zM283 202h2v1h-2zM342 173h2v1h-2zM381 154h2v1h-2zM289 199h2v1h-2zM291 198h2v1h-2zM391 149h2v1h-2zM301 193h2v1h-2zM389 150h2v1h-2zM338 175h2v1h-2zM350 169h2v1h-2zM259 214h1v1h-1zM344 172h2v1h-2zM295 196h2v1h-2zM400 145h2v1h-2zM354 167h2v1h-2zM313 187h2v1h-2zM352 168h2v1h-2zM260 213h2v1h-2zM270 208h2v1h-2zM363 163h2v1h-2zM272 207h2v1h-2zM402 144h2v1h-2zM322 183h2v1h-2zM361 164h2v1h-2zM297 195h2v1h-2zM309 189h2v1h-2z" fill="#000"/>
<path d="M452 226h8v1h-8zM573 210h8v1h-8zM588 208h8v1h-8zM505 219h8v1h-8zM410 232h5v1h-5zM437 228h8v1h-8zM535 215h8v1h-8zM520 217h8v1h-8zM445 227h7v1h-7zM422 230h8v1h-8zM460 225h7v1h-7zM581 209h7v1h-7zM430 229h7v1h-7zM558 212h8v1h-8zM490 221h8v1h-8zM415 231h7v1h-7zM543 214h7v1h-7zM475 223h8v1h-8zM483 222h7v1h-7zM467 224h8v1h-8zM596 207h7v1h-7zM528 216h7v1h-7zM513 218h7v1h-7zM566 211h7v1h-7zM498 220h7v1h-7zM550 213h8v1h-8zM603 206h5v1h-5z" fill="#000"/>
<path d="M494 210h2v1h-2zM524 191h2v1h-2zM500 206h2v1h-2zM486 215h2v1h-2zM515 197h1v1h-1zM492 211h2v1h-2zM516 196h2v1h-2zM507 202h1v1h-1zM497 208h2v1h-2zM527 189h2v1h-2zM499 207h1v1h-1zM555 172h1v1h-1zM531 187h1v1h-1zM489 213h2v1h-2zM519 194h2v1h-2zM545 178h2v1h-2zM547 177h1v1h-1zM505 203h2v1h-2zM511 199h2v1h-2zM537 183h2v1h-2zM539 182h1v1h-1zM567 164h2v1h-2zM508 201h2v1h-2zM529 188h2v1h-2zM559 169h2v1h-2zM550 175h1v1h-1zM551 174h2v1h-2zM542 180h1v1h-1zM556 171h2v1h-2zM548 176h2v1h-2zM569 163h1v1h-1zM570 162h2v1h-2zM561 168h1v1h-1zM478 220h2v1h-2zM484 216h2v1h-2zM476 221h2v1h-2zM491 212h1v1h-1zM481 218h2v1h-2zM483 217h1v1h-1zM474 223h1v1h-1zM475 222h1v1h-1zM521 193h2v1h-2zM513 198h2v1h-2zM543 179h2v1h-2zM502 205h2v1h-2zM534 185h1v1h-1zM535 184h2v1h-2zM526 190h1v1h-1zM540 181h2v1h-2zM518 195h1v1h-1zM532 186h2v1h-2zM562 167h2v1h-2zM553 173h2v1h-2zM575 159h2v1h-2zM577 158h2v1h-2zM510 200h1v1h-1zM504 204h1v1h-1zM572 161h2v1h-2zM564 166h2v1h-2zM523 192h1v1h-1zM574 160h1v1h-1zM566 165h1v1h-1zM558 170h1v1h-1zM496 209h1v1h-1zM488 214h1v1h-1zM480 219h1v1h-1z" fill="#000"/>
<path d="M719 218h2v1h-2zM712 214h2v1h-2zM804 262h2v1h-2zM723 220h2v1h-2zM806 263h2v1h-2zM798 259h2v1h-2zM633 173h2v1h-2zM625 169h2v1h-2zM715 216h2v1h-2zM708 212h2v1h-2zM800 260h2v1h-2zM861 292h2v1h-2zM783 251h2v1h-2zM794 257h2v1h-2zM710 213h2v1h-2zM550 130h2v1h-2zM785 252h2v1h-2zM704 210h2v1h-2zM696 206h2v1h-2zM787 253h1v1h-1zM779 249h2v1h-2zM554 132h2v1h-2zM547 128h1v1h-1zM539 124h2v1h-2zM865 294h2v1h-2zM781 250h2v1h-2zM700 208h2v1h-2zM773 246h2v1h-2zM692 204h2v1h-2zM541 125h2v1h-2zM856 289h2v1h-2zM775 247h2v1h-2zM767 243h2v1h-2zM543 126h2v1h-2zM535 122h2v1h-2zM850 286h2v1h-2zM618 165h1v1h-1zM610 161h2v1h-2zM852 287h2v1h-2zM771 245h2v1h-2zM844 283h2v1h-2zM763 241h2v1h-2zM527 118h2v1h-2zM520 114h2v1h-2zM612 162h2v1h-2zM531 120h2v1h-2zM846 284h2v1h-2zM838 280h2v1h-2zM673 194h2v1h-2zM614 163h2v1h-2zM606 159h2v1h-2zM848 285h2v1h-2zM523 116h2v1h-2zM616 164h2v1h-2zM842 282h2v1h-2zM683 199h2v1h-2zM602 157h2v1h-2zM744 231h2v1h-2zM685 200h2v1h-2zM677 196h2v1h-2zM593 152h2v1h-2zM595 153h1v1h-1zM587 149h2v1h-2zM687 201h2v1h-2zM679 197h2v1h-2zM740 229h2v1h-2zM681 198h2v1h-2zM754 236h2v1h-2zM589 150h2v1h-2zM815 268h2v1h-2zM756 237h2v1h-2zM748 233h2v1h-2zM591 151h2v1h-2zM664 189h2v1h-2zM583 147h2v1h-2zM575 143h2v1h-2zM666 190h1v1h-1zM658 186h2v1h-2zM758 238h2v1h-2zM750 234h2v1h-2zM742 230h2v1h-2zM811 266h2v1h-2zM833 277h2v1h-2zM752 235h2v1h-2zM825 273h2v1h-2zM660 187h2v1h-2zM579 145h2v1h-2zM652 183h2v1h-2zM571 141h2v1h-2zM819 270h2v1h-2zM662 188h2v1h-2zM735 226h2v1h-2zM654 184h2v1h-2zM646 180h2v1h-2zM746 232h2v1h-2zM729 223h2v1h-2zM829 275h2v1h-2zM821 271h2v1h-2zM813 267h2v1h-2zM656 185h2v1h-2zM823 272h2v1h-2zM731 224h2v1h-2zM650 182h2v1h-2zM733 225h2v1h-2zM725 221h2v1h-2zM717 217h2v1h-2zM817 269h2v1h-2zM552 131h2v1h-2zM727 222h2v1h-2zM802 261h2v1h-2zM721 219h2v1h-2zM548 129h2v1h-2zM562 136h2v1h-2zM796 258h2v1h-2zM788 254h2v1h-2zM623 168h2v1h-2zM564 137h2v1h-2zM556 133h2v1h-2zM790 255h2v1h-2zM566 138h2v1h-2zM558 134h2v1h-2zM792 256h2v1h-2zM619 166h2v1h-2zM641 177h2v1h-2zM560 135h2v1h-2zM859 291h2v1h-2zM694 205h2v1h-2zM627 170h2v1h-2zM854 288h2v1h-2zM537 123h2v1h-2zM637 175h2v1h-2zM629 171h2v1h-2zM621 167h2v1h-2zM863 293h2v1h-2zM631 172h2v1h-2zM765 242h2v1h-2zM858 290h1v1h-1zM698 207h2v1h-2zM533 121h2v1h-2zM525 117h2v1h-2zM608 160h2v1h-2zM702 209h2v1h-2zM529 119h2v1h-2zM836 279h2v1h-2zM604 158h2v1h-2zM596 154h2v1h-2zM689 202h2v1h-2zM598 155h2v1h-2zM600 156h2v1h-2zM675 195h2v1h-2zM667 191h2v1h-2zM760 239h2v1h-2zM577 144h2v1h-2zM669 192h2v1h-2zM671 193h2v1h-2zM573 142h2v1h-2zM831 276h2v1h-2zM648 181h2v1h-2zM835 278h1v1h-1zM827 274h2v1h-2zM644 179h2v1h-2zM737 227h2v1h-2zM581 146h2v1h-2zM808 264h2v1h-2zM568 139h2v1h-2zM639 176h2v1h-2zM643 178h1v1h-1zM635 174h2v1h-2zM545 127h2v1h-2zM714 215h1v1h-1zM706 211h2v1h-2zM691 203h1v1h-1zM777 248h2v1h-2zM769 244h2v1h-2zM762 240h1v1h-1zM840 281h2v1h-2zM518 113h2v1h-2zM522 115h1v1h-1zM585 148h2v1h-2zM570 140h1v1h-1zM739 228h1v1h-1zM810 265h1v1h-1z" fill="#000"/>
<path d="M961 254h2v1h-2zM856 297h3v1h-3zM859 296h2v1h-2zM898 280h2v1h-2zM1054 216h2v1h-2zM834 306h3v1h-3zM954 257h2v1h-2zM990 242h3v1h-3zM1029 226h3v1h-3zM890 283h3v1h-3zM854 298h2v1h-2zM929 267h3v1h-3zM829 308h3v1h-3zM1027 227h2v1h-2zM993 241h2v1h-2zM1032 225h2v1h-2zM927 268h2v1h-2zM968 251h3v1h-3zM827 309h2v1h-2zM868 292h3v1h-3zM905 277h2v1h-2zM1024 228h3v1h-3zM805 318h3v1h-3zM844 302h2v1h-2zM963 253h3v1h-3zM861 295h3v1h-3zM900 279h3v1h-3zM1000 238h2v1h-2zM837 305h2v1h-2zM998 239h2v1h-2zM1039 222h2v1h-2zM939 263h3v1h-3zM873 290h3v1h-3zM876 289h2v1h-2zM839 304h3v1h-3zM810 316h2v1h-2zM915 273h2v1h-2zM932 266h2v1h-2zM971 250h2v1h-2zM1015 232h2v1h-2zM907 276h3v1h-3zM871 291h2v1h-2zM946 260h3v1h-3zM1034 224h3v1h-3zM808 317h2v1h-2zM846 301h3v1h-3zM1046 219h3v1h-3zM1010 234h2v1h-2zM944 261h2v1h-2zM910 275h2v1h-2zM881 287h2v1h-2zM985 244h3v1h-3zM1002 237h3v1h-3zM822 311h3v1h-3zM942 262h2v1h-2zM978 247h2v1h-2zM980 246h3v1h-3zM878 288h3v1h-3zM917 272h3v1h-3zM1017 231h2v1h-2zM815 314h2v1h-2zM817 313h3v1h-3zM951 258h3v1h-3zM1056 215h2v1h-2zM851 299h3v1h-3zM893 282h2v1h-2zM1012 233h3v1h-3zM1049 218h2v1h-2zM949 259h2v1h-2zM988 243h2v1h-2zM1051 217h3v1h-3zM885 285h3v1h-3zM849 300h2v1h-2zM888 284h2v1h-2zM924 269h3v1h-3zM825 310h2v1h-2zM864 294h2v1h-2zM1019 230h3v1h-3zM956 256h3v1h-3zM920 271h2v1h-2zM959 255h2v1h-2zM995 240h3v1h-3zM895 281h3v1h-3zM934 265h3v1h-3zM832 307h2v1h-2zM966 252h2v1h-2zM1005 236h2v1h-2zM866 293h2v1h-2zM804 319h1v1h-1zM842 303h2v1h-2zM903 278h2v1h-2zM1037 223h2v1h-2zM937 264h2v1h-2zM976 248h2v1h-2zM912 274h3v1h-3zM812 315h3v1h-3zM973 249h3v1h-3zM922 270h2v1h-2zM1007 235h3v1h-3zM983 245h2v1h-2zM883 286h2v1h-2zM1022 229h2v1h-2zM820 312h2v1h-2zM1041 221h3v1h-3zM1044 220h2v1h-2z" fill="#000"/>
<path d="M1350 396h2v1h-2zM1324 379h1v1h-1zM1378 414h1v1h-1zM1201 299h1v1h-1zM1255 334h1v1h-1zM1309 369h1v1h-1zM1248 330h2v1h-2zM1207 303h1v1h-1zM1358 401h1v1h-1zM1290 357h2v1h-2zM1256 335h2v1h-2zM1310 370h2v1h-2zM1364 405h1v1h-1zM1202 300h2v1h-2zM1241 325h1v1h-1zM1244 327h1v1h-1zM1298 362h1v1h-1zM1352 397h1v1h-1zM1228 317h2v1h-2zM1282 352h2v1h-2zM1305 367h2v1h-2zM1359 402h2v1h-2zM1299 363h2v1h-2zM1353 398h2v1h-2zM1210 305h2v1h-2zM1230 318h2v1h-2zM1341 390h1v1h-1zM1218 310h1v1h-1zM1272 345h1v1h-1zM1325 380h2v1h-2zM1379 415h2v1h-2zM1224 314h1v1h-1zM1278 349h1v1h-1zM1375 412h1v1h-1zM1225 315h2v1h-2zM1279 350h2v1h-2zM1333 385h2v1h-2zM1367 407h2v1h-2zM1362 404h2v1h-2zM1261 338h1v1h-1zM1315 373h1v1h-1zM1369 408h1v1h-1zM1245 328h2v1h-2zM1219 311h2v1h-2zM1302 365h2v1h-2zM1268 343h2v1h-2zM1322 378h2v1h-2zM1356 400h2v1h-2zM1233 320h2v1h-2zM1287 355h2v1h-2zM1376 413h2v1h-2zM1205 302h2v1h-2zM1259 337h2v1h-2zM1336 387h2v1h-2zM1235 321h1v1h-1zM1289 356h1v1h-1zM1342 391h2v1h-2zM1316 374h2v1h-2zM1365 406h2v1h-2zM1222 313h2v1h-2zM1276 348h2v1h-2zM1242 326h2v1h-2zM1296 361h2v1h-2zM1330 383h2v1h-2zM1213 307h2v1h-2zM1284 353h1v1h-1zM1338 388h1v1h-1zM1332 384h1v1h-1zM1385 419h2v1h-2zM1208 304h2v1h-2zM1262 339h2v1h-2zM1236 322h2v1h-2zM1319 376h2v1h-2zM1285 354h2v1h-2zM1339 389h2v1h-2zM1373 411h2v1h-2zM1250 331h2v1h-2zM1216 309h2v1h-2zM1273 346h2v1h-2zM1327 381h2v1h-2zM1381 416h1v1h-1zM1204 301h1v1h-1zM1258 336h1v1h-1zM1312 371h1v1h-1zM1387 420h2v1h-2zM1264 340h1v1h-1zM1382 417h2v1h-2zM1239 324h2v1h-2zM1293 359h2v1h-2zM1347 394h2v1h-2zM1313 372h2v1h-2zM1252 332h1v1h-1zM1370 409h2v1h-2zM1247 329h1v1h-1zM1301 364h1v1h-1zM1355 399h1v1h-1zM1253 333h2v1h-2zM1307 368h2v1h-2zM1361 403h1v1h-1zM1238 323h1v1h-1zM1295 360h1v1h-1zM1349 395h1v1h-1zM1344 392h1v1h-1zM1221 312h1v1h-1zM1275 347h1v1h-1zM1329 382h1v1h-1zM1227 316h1v1h-1zM1281 351h1v1h-1zM1215 308h1v1h-1zM1200 298h1v1h-1zM1318 375h1v1h-1zM1372 410h1v1h-1zM1345 393h2v1h-2zM1270 344h2v1h-2zM1292 358h1v1h-1zM1265 341h2v1h-2zM1304 366h1v1h-1zM1232 319h1v1h-1zM1389 421h1v1h-1zM1335 386h1v1h-1zM1212 306h1v1h-1zM1384 418h1v1h-1zM1390 422h1v1h-1zM1267 342h1v1h-1zM1321 377h1v1h-1z" fill="#000"/>
<path d="M1674 234h5v1h-5zM1777 256h4v1h-4zM1767 254h5v1h-5zM1656 230h4v1h-4zM1749 250h4v1h-4zM1735 247h5v1h-5zM1614 221h5v1h-5zM1716 243h5v1h-5zM1595 217h5v1h-5zM1688 237h5v1h-5zM1670 233h4v1h-4zM1707 241h5v1h-5zM1665 232h5v1h-5zM1647 228h4v1h-4zM1628 224h5v1h-5zM1600 218h5v1h-5zM1586 215h5v1h-5zM1679 235h5v1h-5zM1660 231h5v1h-5zM1758 252h5v1h-5zM1637 226h5v1h-5zM1609 220h5v1h-5zM1619 222h4v1h-4zM1698 239h4v1h-4zM1740 248h4v1h-4zM1651 229h5v1h-5zM1730 246h5v1h-5zM1712 242h4v1h-4zM1763 253h4v1h-4zM1772 255h5v1h-5zM1744 249h5v1h-5zM1702 240h5v1h-5zM1781 257h5v1h-5zM1581 214h5v1h-5zM1642 227h5v1h-5zM1684 236h4v1h-4zM1753 251h5v1h-5zM1633 225h4v1h-4zM1591 216h4v1h-4zM1726 245h4v1h-4zM1605 219h4v1h-4zM1786 258h5v1h-5zM1623 223h5v1h-5zM1578 213h3v1h-3zM1791 259h3v1h-3zM1721 244h5v1h-5zM1693 238h5v1h-5z" fill="#000"/>
<path d="M1073 476h65v1h-65z" fill="#000"/>
<path d="M38 852h1v28h-1zM43 852h1v28h-1zM48 862h1v18h-1zM53 863h1v17h-1zM58 867h1v13h-1zM63 870h1v10h-1zM67 870h1v10h-1zM72 846h1v34h-1zM77 863h1v17h-1zM82 853h1v27h-1zM87 857h1v23h-1zM92 870h1v10h-1zM97 867h1v13h-1zM102 873h1v7h-1zM107 873h1v7h-1zM112 854h1v26h-1zM117 870h1v10h-1zM121 867h1v13h-1zM126 870h1v10h-1zM131 867h1v13h-1zM136 856h1v24h-1zM141 868h1v12h-1zM146 859h1v21h-1zM151 867h1v13h-1zM156 870h1v10h-1zM161 864h1v16h-1zM166 866h1v14h-1zM170 860h1v20h-1zM175 873h1v7h-1zM180 868h1v12h-1zM185 867h1v13h-1zM190 871h1v9h-1zM195 872h1v8h-1zM200 872h1v8h-1zM205 869h1v11h-1zM210 854h1v26h-1zM215 869h1v11h-1zM219 871h1v9h-1zM224 868h1v12h-1zM229 866h1v14h-1zM234 868h1v12h-1zM239 859h1v21h-1zM244 841h1v39h-1zM249 865h1v15h-1zM254 867h1v13h-1zM259 861h1v19h-1zM264 859h1v21h-1zM269 869h1v11h-1zM273 869h1v11h-1zM278 872h1v8h-1zM283 872h1v8h-1zM288 875h1v5h-1zM293 874h1v6h-1zM298 873h1v7h-1zM303 871h1v9h-1zM308 872h1v8h-1zM313 874h1v6h-1zM318 876h1v4h-1zM322 874h1v6h-1zM327 870h1v10h-1zM332 875h1v5h-1zM337 874h1v6h-1zM342 874h1v6h-1zM347 872h1v8h-1zM352 861h1v19h-1zM357 874h1v6h-1zM362 864h1v16h-1zM367 864h1v16h-1zM371 869h1v11h-1zM376 864h1v16h-1zM381 864h1v16h-1zM386 858h1v22h-1zM391 874h1v6h-1zM396 875h1v5h-1zM401 873h1v7h-1zM406 876h1v4h-1zM411 807h1v73h-1zM416 867h1v13h-1zM420 868h1v12h-1zM425 839h1v41h-1zM430 845h1v35h-1zM435 845h1v35h-1zM440 870h1v10h-1zM445 857h1v23h-1zM450 863h1v17h-1zM455 840h1v40h-1zM460 854h1v26h-1zM465 819h1v61h-1zM470 856h1v24h-1zM474 852h1v28h-1zM479 860h1v20h-1zM484 863h1v17h-1zM489 863h1v17h-1zM494 856h1v24h-1zM499 806h1v74h-1zM504 845h1v35h-1zM509 853h1v27h-1zM514 859h1v21h-1zM519 863h1v17h-1zM523 860h1v20h-1zM528 859h1v21h-1zM533 856h1v24h-1zM538 855h1v25h-1zM543 861h1v19h-1zM548 850h1v30h-1zM553 870h1v10h-1zM558 864h1v16h-1zM563 851h1v29h-1zM568 862h1v18h-1zM572 867h1v13h-1zM577 867h1v13h-1zM582 869h1v11h-1zM587 856h1v24h-1zM592 836h1v44h-1zM597 863h1v17h-1zM602 879h1v1h-1zM607 843h1v37h-1zM612 821h1v59h-1zM617 859h1v21h-1zM622 862h1v18h-1zM626 867h1v13h-1zM631 865h1v15h-1zM636 870h1v10h-1zM641 870h1v10h-1zM646 866h1v14h-1zM651 857h1v23h-1zM656 862h1v18h-1zM661 869h1v11h-1zM666 868h1v12h-1zM671 866h1v14h-1zM675 847h1v33h-1zM680 861h1v19h-1zM685 853h1v27h-1zM690 859h1v21h-1zM695 862h1v18h-1zM700 863h1v17h-1zM705 866h1v14h-1zM710 859h1v21h-1zM715 866h1v14h-1zM720 861h1v19h-1zM724 858h1v22h-1zM729 867h1v13h-1zM734 867h1v13h-1zM739 858h1v22h-1zM744 864h1v16h-1zM749 871h1v9h-1zM754 872h1v8h-1zM759 869h1v11h-1zM764 871h1v9h-1zM769 869h1v11h-1zM773 860h1v20h-1zM778 866h1v14h-1zM783 856h1v24h-1zM788 869h1v11h-1zM793 864h1v16h-1zM798 866h1v14h-1zM803 851h1v29h-1zM808 858h1v22h-1zM813 858h1v22h-1zM818 858h1v22h-1zM823 863h1v17h-1zM827 856h1v24h-1zM832 859h1v21h-1zM837 863h1v17h-1zM842 861h1v19h-1zM847 873h1v7h-1zM852 864h1v16h-1zM857 868h1v12h-1zM862 814h1v66h-1zM867 853h1v27h-1zM872 835h1v45h-1zM876 864h1v16h-1zM881 865h1v15h-1zM886 867h1v13h-1zM891 870h1v10h-1zM896 868h1v12h-1zM901 873h1v7h-1zM906 869h1v11h-1zM911 843h1v37h-1zM916 853h1v27h-1zM921 866h1v14h-1zM925 865h1v15h-1zM930 861h1v19h-1zM935 869h1v11h-1zM940 868h1v12h-1zM945 866h1v14h-1zM950 870h1v10h-1zM955 856h1v24h-1zM960 866h1v14h-1zM965 859h1v21h-1zM970 853h1v27h-1zM975 849h1v31h-1zM979 854h1v26h-1zM984 846h1v34h-1zM989 864h1v16h-1zM994 866h1v14h-1zM999 858h1v22h-1zM1004 868h1v12h-1zM1009 865h1v15h-1zM1014 870h1v10h-1zM1019 860h1v20h-1zM1024 615h1v265h-1zM1028 744h1v136h-1zM1033 814h1v66h-1zM1038 833h1v47h-1zM1043 850h1v30h-1zM1048 856h1v24h-1zM1053 840h1v40h-1zM1058 839h1v41h-1zM1063 843h1v37h-1zM1068 835h1v45h-1zM1073 859h1v21h-1zM1077 850h1v30h-1zM1082 847h1v33h-1zM1087 834h1v46h-1zM1092 820h1v60h-1zM1097 846h1v34h-1zM1102 852h1v28h-1zM1107 846h1v34h-1zM1112 869h1v11h-1zM1117 867h1v13h-1zM1122 860h1v20h-1zM1126 865h1v15h-1zM1131 861h1v19h-1zM1136 865h1v15h-1zM1141 858h1v22h-1zM1146 862h1v18h-1zM1151 871h1v9h-1zM1156 869h1v11h-1zM1161 866h1v14h-1zM1166 864h1v16h-1zM1171 864h1v16h-1zM1176 870h1v10h-1zM1180 863h1v17h-1zM1185 865h1v15h-1zM1190 822h1v58h-1zM1195 851h1v29h-1zM1200 822h1v58h-1zM1205 859h1v21h-1zM1210 867h1v13h-1zM1215 866h1v14h-1zM1220 866h1v14h-1zM1225 869h1v11h-1zM1229 863h1v17h-1zM1234 870h1v10h-1zM1239 850h1v30h-1zM1244 848h1v32h-1zM1249 865h1v15h-1zM1254 858h1v22h-1zM1259 864h1v16h-1zM1264 858h1v22h-1zM1269 864h1v16h-1zM1274 852h1v28h-1zM1278 862h1v18h-1zM1283 837h1v43h-1zM1288 856h1v24h-1zM1293 864h1v16h-1zM1298 871h1v9h-1zM1303 863h1v17h-1zM1308 851h1v29h-1zM1313 860h1v20h-1zM1318 862h1v18h-1zM1323 870h1v10h-1zM1328 862h1v18h-1zM1332 861h1v19h-1zM1337 868h1v12h-1zM1342 866h1v14h-1zM1347 868h1v12h-1zM1352 866h1v14h-1zM1357 873h1v7h-1zM1362 871h1v9h-1zM1367 850h1v30h-1zM1372 864h1v16h-1zM1377 850h1v30h-1zM1381 837h1v43h-1zM1386 849h1v31h-1zM1391 869h1v11h-1zM1396 874h1v6h-1zM1401 871h1v9h-1zM1406 866h1v14h-1zM1411 872h1v8h-1zM1416 865h1v15h-1zM1421 870h1v10h-1zM1426 873h1v7h-1zM1430 872h1v8h-1zM1435 874h1v6h-1zM1440 864h1v16h-1zM1445 860h1v20h-1zM1450 860h1v20h-1zM1455 840h1v40h-1zM1460 852h1v28h-1zM1465 845h1v35h-1zM1470 832h1v48h-1zM1475 732h1v148h-1zM1479 818h1v62h-1zM1484 846h1v34h-1zM1489 862h1v18h-1zM1494 872h1v8h-1zM1499 865h1v15h-1zM1504 867h1v13h-1zM1509 860h1v20h-1zM1514 860h1v20h-1zM1519 861h1v19h-1zM1524 857h1v23h-1zM1529 860h1v20h-1zM1533 864h1v16h-1zM1538 866h1v14h-1zM1543 857h1v23h-1zM1548 871h1v9h-1zM1553 872h1v8h-1zM1558 866h1v14h-1zM1563 868h1v12h-1zM1568 865h1v15h-1zM1573 871h1v9h-1zM1578 853h1v27h-1zM1582 856h1v24h-1zM1587 872h1v8h-1zM1592 866h1v14h-1zM1597 872h1v8h-1zM1602 873h1v7h-1zM1607 873h1v7h-1zM1612 875h1v5h-1zM1617 875h1v5h-1zM1622 870h1v10h-1zM1627 872h1v8h-1zM1631 871h1v9h-1zM1636 865h1v15h-1zM1641 866h1v14h-1zM1646 868h1v12h-1zM1651 867h1v13h-1zM1656 868h1v12h-1zM1661 873h1v7h-1zM1666 875h1v5h-1zM1671 870h1v10h-1zM1676 870h1v10h-1zM1681 874h1v6h-1zM1685 874h1v6h-1zM1690 871h1v9h-1zM1695 875h1v5h-1zM1700 861h1v19h-1zM1705 872h1v8h-1zM1710 873h1v7h-1zM1715 872h1v8h-1zM1720 872h1v8h-1zM1725 866h1v14h-1zM1730 864h1v16h-1zM1734 873h1v7h-1zM1739 866h1v14h-1zM1744 866h1v14h-1zM1749 868h1v12h-1zM1754 856h1v24h-1zM1759 854h1v26h-1zM1764 843h1v37h-1zM1769 855h1v25h-1zM1774 869h1v11h-1zM1779 863h1v17h-1zM1783 871h1v9h-1zM1788 874h1v6h-1zM1793 859h1v21h-1zM1798 868h1v12h-1z" fill="#00f"/>
<path d="M610 831h1v2h-1zM1066 846h1v2h-1zM978 721h1v26h-1zM642 773h1v19h-1zM587 840h1v16h-1zM1635 772h1v15h-1zM1473 705h1v31h-1zM1679 816h1v2h-1zM1412 692h1v16h-1zM908 673h1v17h-1zM677 775h1v7h-1zM773 712h1v18h-1zM591 714h1v31h-1zM1315 767h1v10h-1zM1609 720h1v11h-1zM1433 750h1v20h-1zM492 729h1v10h-1zM1350 718h1v21h-1zM973 775h1v14h-1zM1429 785h1v6h-1zM1644 703h1v31h-1zM670 736h1v4h-1zM926 655h1v12h-1zM1093 822h1v20h-1zM1267 722h1v9h-1zM1449 702h1v12h-1zM45 684h1v6h-1zM1523 649h1v7h-1zM1077 832h1v4h-1zM1748 762h1v16h-1zM1178 654h1v19h-1zM1720 710h1v9h-1zM149 740h1v14h-1zM1183 729h1v11h-1zM369 738h1v12h-1zM556 837h1v2h-1zM589 777h1v31h-1zM1246 781h1v26h-1zM1345 763h1v11h-1zM1391 655h1v9h-1zM780 727h1v16h-1zM1262 721h1v14h-1zM1482 771h1v11h-1zM1683 763h1v23h-1zM158 680h1v5h-1zM177 687h1v11h-1zM77 758h1v5h-1zM655 731h1v13h-1zM875 739h1v9h-1zM1706 664h1v6h-1zM451 676h1v18h-1zM878 744h1v6h-1zM396 737h1v8h-1zM1012 741h1v9h-1zM542 795h1v3h-1zM308 624h1v9h-1zM1273 785h1v11h-1zM192 681h1v3h-1zM1276 784h1v7h-1zM1248 728h1v27h-1zM1685 729h1v11h-1zM1363 670h1v9h-1zM1669 719h1v4h-1zM975 798h1v14h-1zM842 675h1v10h-1zM1604 770h1v10h-1zM248 698h1v4h-1zM148 754h1v15h-1zM322 681h1v4h-1zM1428 779h1v6h-1zM1442 678h1v8h-1zM165 699h1v8h-1zM762 688h1v6h-1zM354 632h1v5h-1zM1518 670h1v8h-1zM1724 772h1v17h-1zM361 749h1v29h-1zM1481 782h1v12h-1zM1393 674h1v9h-1zM317 689h1v3h-1zM757 691h1v7h-1zM1414 724h1v17h-1zM1543 621h1v5h-1zM440 752h1v9h-1zM1574 725h1v17h-1zM1648 670h1v8h-1zM863 625h1v13h-1zM935 734h1v8h-1zM310 649h1v16h-1zM893 741h1v9h-1zM171 757h1v12h-1zM928 687h1v19h-1zM1786 721h1v10h-1zM523 646h1v11h-1zM1758 666h1v7h-1zM1722 737h1v17h-1zM1119 676h1v7h-1zM546 814h1v7h-1zM525 677h1v20h-1zM282 709h1v6h-1zM1696 721h1v11h-1zM125 760h1v9h-1zM1682 786h1v22h-1zM144 767h1v9h-1zM359 691h1v29h-1zM400 696h1v10h-1zM782 760h1v16h-1zM229 814h1v6h-1zM740 769h1v4h-1zM418 749h1v9h-1zM652 691h1v13h-1zM1354 696h1v6h-1zM1675 788h1v17h-1zM453 712h1v18h-1zM1573 741h1v10h-1zM254 767h1v9h-1zM455 748h1v11h-1zM1608 731h1v11h-1zM923 634h1v7h-1zM391 771h1v4h-1zM1349 739h1v21h-1zM1335 805h1v3h-1zM1538 640h1v3h-1zM113 752h1v17h-1zM1362 679h1v8h-1zM729 760h1v9h-1zM770 768h1v19h-1zM858 649h1v8h-1zM1582 682h1v4h-1zM71 750h1v35h-1zM1499 682h1v7h-1zM1358 707h1v7h-1zM1022 756h1v27h-1zM1108 760h1v10h-1zM122 731h1v10h-1zM805 761h1v25h-1zM428 767h1v10h-1zM1341 742h1v16h-1zM1721 719h1v18h-1zM606 811h1v10h-1zM1299 740h1v19h-1zM243 723h1v20h-1zM1211 633h1v20h-1zM779 710h1v17h-1zM724 756h1v22h-1zM999 712h1v5h-1zM462 771h1v4h-1zM911 630h1v9h-1zM1279 765h1v5h-1zM1735 814h1v5h-1zM1466 630h1v2h-1zM136 785h1v6h-1zM1452 686h1v14h-1zM175 709h1v12h-1zM1314 757h1v10h-1zM906 707h1v9h-1zM1790 685h1v8h-1zM1561 637h1v2h-1zM532 720h1v7h-1zM702 640h1v10h-1zM1010 760h1v9h-1zM325 659h1v7h-1zM1693 751h1v9h-1zM344 673h1v2h-1zM941 662h1v3h-1zM272 756h1v16h-1zM1177 636h1v18h-1zM1746 795h1v16h-1zM827 757h1v8h-1zM409 770h1v19h-1zM1699 687h1v11h-1zM469 788h1v8h-1zM1514 645h1v4h-1zM1605 761h1v9h-1zM1321 776h1v7h-1zM1114 710h1v6h-1zM1711 696h1v10h-1zM1100 771h1v8h-1zM360 720h1v29h-1zM654 717h1v14h-1zM910 639h1v17h-1zM1612 693h1v6h-1zM222 805h1v3h-1zM538 781h1v8h-1zM739 768h1v8h-1zM813 721h1v3h-1zM450 666h1v10h-1zM1080 835h1v3h-1zM436 733h1v6h-1zM1570 688h1v18h-1zM207 675h1v31h-1zM1413 708h1v16h-1zM950 724h1v9h-1zM1762 637h1v7h-1zM1096 761h1v20h-1zM251 720h1v16h-1zM110 740h1v15h-1zM237 787h1v10h-1zM559 841h1v2h-1zM1297 769h1v2h-1zM1761 644h1v8h-1zM825 729h1v14h-1zM1348 760h1v21h-1zM704 661h1v11h-1zM167 720h1v16h-1zM1406 710h1v6h-1zM1521 663h1v7h-1zM1199 636h1v20h-1zM1075 841h1v4h-1zM445 675h1v9h-1zM1556 653h1v5h-1zM804 786h1v24h-1zM683 707h1v26h-1zM1181 707h1v11h-1zM140 747h1v10h-1zM737 739h1v15h-1zM602 775h1v6h-1zM1392 664h1v10h-1zM640 806h1v8h-1zM156 690h1v5h-1zM753 683h1v17h-1zM1713 717h1v11h-1zM1014 723h1v8h-1zM1496 717h1v13h-1zM595 731h1v13h-1zM1278 769h1v8h-1zM1095 781h1v21h-1zM861 623h1v8h-1zM685 665h1v16h-1zM1782 707h1v16h-1zM767 738h1v23h-1zM109 725h1v15h-1zM343 675h1v3h-1zM940 665h1v9h-1zM769 785h1v12h-1zM70 715h1v35h-1zM856 666h1v10h-1zM961 724h1v7h-1zM42 677h1v9h-1zM1472 673h1v32h-1zM1021 728h1v28h-1zM644 735h1v19h-1zM1213 673h1v20h-1zM426 787h1v10h-1zM1023 783h1v27h-1zM1419 786h1v9h-1zM954 681h1v12h-1zM535 738h1v15h-1zM650 687h1v4h-1zM1655 732h1v10h-1zM1192 741h1v6h-1zM1338 790h1v16h-1zM452 694h1v18h-1zM493 739h1v10h-1zM1572 724h1v17h-1zM947 676h1v16h-1zM1249 715h1v13h-1zM1590 779h1v14h-1zM616 812h1v5h-1zM253 751h1v16h-1zM1268 731h1v9h-1zM46 690h1v7h-1zM206 644h1v31h-1zM49 693h1v9h-1zM169 751h1v16h-1zM403 701h1v6h-1zM1141 633h1v3h-1zM1578 666h1v9h-1zM764 679h1v12h-1zM750 735h1v17h-1zM1261 735h1v13h-1zM939 674h1v15h-1zM884 748h1v5h-1zM1402 667h1v11h-1zM1784 738h1v9h-1zM465 761h1v4h-1zM826 743h1v14h-1zM1282 789h1v9h-1zM1643 734h1v30h-1zM756 684h1v7h-1zM1210 623h1v10h-1zM351 630h1v8h-1zM241 763h1v19h-1zM497 685h1v20h-1zM838 744h1v20h-1zM879 750h1v6h-1zM953 693h1v11h-1zM309 633h1v16h-1zM1319 791h1v7h-1zM1434 729h1v21h-1zM653 704h1v13h-1zM1676 805h1v9h-1zM333 699h1v8h-1zM1592 807h1v8h-1zM1779 668h1v8h-1zM208 706h1v31h-1zM590 745h1v32h-1zM860 631h1v9h-1zM166 707h1v13h-1zM721 693h1v21h-1zM1659 755h1v3h-1zM430 750h1v7h-1zM1018 691h1v8h-1zM481 717h1v7h-1zM1716 734h1v7h-1zM1224 793h1v18h-1zM742 762h1v4h-1zM398 717h1v10h-1zM1196 695h1v19h-1zM733 710h1v12h-1zM1471 642h1v31h-1zM120 715h1v8h-1zM1025 817h1v5h-1zM1099 763h1v8h-1zM328 654h1v13h-1zM937 704h1v15h-1zM837 764h1v10h-1zM689 637h1v7h-1zM1415 741h1v16h-1zM1649 678h1v8h-1zM138 766h1v10h-1zM372 707h1v13h-1zM592 698h1v16h-1zM537 767h1v14h-1zM96 761h1v12h-1zM738 754h1v14h-1zM638 823h1v8h-1zM872 761h1v9h-1zM233 768h1v11h-1zM489 703h1v5h-1zM1494 744h1v8h-1zM527 718h1v20h-1zM236 777h1v10h-1zM1540 632h1v4h-1zM392 765h1v6h-1zM1094 802h1v20h-1zM645 715h1v20h-1zM524 657h1v20h-1zM1723 754h1v18h-1zM1781 692h1v15h-1zM358 662h1v29h-1zM807 712h1v24h-1zM108 711h1v14h-1zM1698 698h1v12h-1zM1302 683h1v19h-1zM443 701h1v17h-1zM1642 764h1v31h-1zM145 776h1v10h-1zM1439 700h1v5h-1zM1728 804h1v3h-1zM681 759h1v26h-1zM1020 701h1v27h-1zM1195 714h1v13h-1zM240 782h1v20h-1zM496 705h1v19h-1zM1212 653h1v20h-1zM716 717h1v10h-1zM1528 636h1v2h-1zM895 724h1v9h-1zM977 747h1v26h-1zM36 730h1v11h-1zM311 665h1v15h-1zM1450 713h1v8h-1zM1214 693h1v20h-1zM173 733h1v12h-1zM952 704h1v11h-1zM1098 755h1v8h-1zM1628 759h1v7h-1zM217 776h1v8h-1zM943 656h1v3h-1zM984 657h1v6h-1zM929 706h1v19h-1zM1237 836h1v4h-1zM115 720h1v16h-1zM189 677h1v8h-1zM1562 634h1v3h-1zM846 716h1v11h-1zM1589 766h1v13h-1zM1583 686h1v9h-1zM105 724h1v15h-1zM270 788h1v17h-1zM471 770h1v20h-1zM94 786h1v13h-1zM168 736h1v15h-1zM1288 773h1v4h-1zM1503 698h1v4h-1zM1697 710h1v11h-1zM682 733h1v26h-1zM1301 702h1v19h-1zM420 732h1v9h-1zM725 778h1v11h-1zM1322 769h1v7h-1zM1454 659h1v14h-1zM991 673h1v2h-1zM82 797h1v5h-1zM679 788h1v7h-1zM1364 662h1v8h-1zM114 736h1v16h-1zM329 667h1v13h-1zM47 697h1v7h-1zM720 682h1v11h-1zM1458 647h1v2h-1zM40 694h1v8h-1zM141 742h1v5h-1zM658 743h1v3h-1zM1317 787h1v10h-1zM1752 715h1v11h-1zM1500 685h1v4h-1zM412 804h1v9h-1zM1182 718h1v11h-1zM1664 726h1v11h-1zM1553 669h1v4h-1zM1773 671h1v10h-1zM102 767h1v7h-1zM803 810h1v13h-1zM472 750h1v20h-1zM153 705h1v5h-1zM1636 787h1v9h-1zM245 708h1v4h-1zM1506 677h1v11h-1zM69 680h1v35h-1zM1048 802h1v3h-1zM1180 692h1v15h-1zM643 754h1v19h-1zM548 827h1v4h-1zM997 693h1v10h-1zM1420 795h1v8h-1zM1656 742h1v7h-1zM1367 640h1v5h-1zM687 651h1v7h-1zM599 768h1v2h-1zM1411 683h1v9h-1zM948 692h1v16h-1zM675 763h1v6h-1zM1492 755h1v3h-1zM647 700h1v4h-1zM1607 742h1v10h-1zM490 708h1v10h-1zM1686 734h1v11h-1zM1498 689h1v14h-1zM1531 639h1v2h-1zM684 681h1v26h-1zM367 763h1v8h-1zM1019 687h1v14h-1zM499 655h1v10h-1zM1260 748h1v14h-1zM38 710h1v9h-1zM1769 633h1v6h-1zM593 705h1v13h-1zM802 817h1v4h-1zM864 638h1v14h-1zM1584 695h1v15h-1zM121 723h1v8h-1zM195 673h1v2h-1zM362 778h1v15h-1zM188 670h1v7h-1zM1611 699h1v11h-1zM293 686h1v7h-1zM1308 657h1v10h-1zM347 663h1v5h-1zM732 722h1v13h-1zM792 785h1v6h-1zM1555 658h1v6h-1zM727 774h1v6h-1zM468 780h1v8h-1zM1653 713h1v10h-1zM1215 713h1v11h-1zM986 663h1v4h-1zM1239 844h1v2h-1zM1435 717h1v12h-1zM394 752h1v6h-1zM1674 771h1v17h-1zM1365 653h1v9h-1zM454 730h1v18h-1zM854 685h1v10h-1zM1703 668h1v4h-1zM701 629h1v11h-1zM907 690h1v17h-1zM981 683h1v10h-1zM967 747h1v3h-1zM731 735h1v12h-1zM958 698h1v9h-1zM111 755h1v14h-1zM1554 664h1v5h-1zM117 695h1v8h-1zM1388 632h1v8h-1zM1478 791h1v4h-1zM798 804h1v2h-1zM1128 679h1v7h-1zM250 705h1v15h-1zM1631 740h1v6h-1zM703 650h1v11h-1zM284 704h1v2h-1zM611 833h1v3h-1zM297 637h1v12h-1zM1684 740h1v23h-1zM1725 789h1v10h-1zM723 735h1v21h-1zM1353 689h1v7h-1zM365 776h1v5h-1zM1017 699h1v8h-1zM1774 681h1v6h-1zM1397 694h1v9h-1zM717 707h1v10h-1zM474 719h1v12h-1zM1258 765h1v3h-1zM688 644h1v7h-1zM622 820h1v2h-1zM1637 796h1v3h-1zM830 769h1v2h-1zM594 718h1v13h-1zM890 756h1v4h-1zM1591 793h1v14h-1zM998 703h1v9h-1zM626 831h1v3h-1zM959 707h1v9h-1zM601 773h1v2h-1zM1112 723h1v8h-1zM480 709h1v8h-1zM295 661h1v13h-1zM751 717h1v18h-1zM346 668h1v2h-1zM869 710h1v17h-1zM712 726h1v2h-1zM1565 642h1v5h-1zM1121 664h1v6h-1zM341 675h1v3h-1zM1280 770h1v10h-1zM1739 834h1v3h-1zM951 715h1v11h-1zM1474 736h1v32h-1zM970 738h1v7h-1zM375 770h1v25h-1zM494 744h1v10h-1zM528 738h1v11h-1zM755 678h1v6h-1zM840 705h1v19h-1zM1437 709h1v4h-1zM1134 671h1v9h-1zM456 759h1v5h-1zM238 797h1v10h-1zM1275 791h1v8h-1zM796 800h1v2h-1zM1701 676h1v4h-1zM882 758h1v4h-1zM761 694h1v6h-1zM477 710h1v3h-1zM956 680h1v9h-1zM1654 723h1v9h-1zM1423 789h1v7h-1zM349 646h1v9h-1zM1254 751h1v6h-1zM708 700h1v9h-1zM1332 792h1v5h-1zM969 740h1v3h-1zM215 765h1v4h-1zM845 704h1v12h-1zM60 663h1v7h-1zM1050 810h1v5h-1zM92 812h1v7h-1zM1795 674h1v7h-1zM242 743h1v20h-1zM624 825h1v3h-1zM1594 805h1v3h-1zM212 775h1v3h-1zM504 654h1v2h-1zM416 767h1v9h-1zM1274 796h1v7h-1zM1403 678h1v10h-1zM131 785h1v2h-1zM1700 680h1v7h-1zM43 673h1v4h-1zM1485 755h1v2h-1zM1621 760h1v6h-1zM881 762h1v3h-1zM760 700h1v5h-1zM1389 640h1v8h-1zM219 791h1v7h-1zM66 670h1v5h-1zM73 789h1v9h-1zM661 734h1v3h-1zM61 670h1v7h-1zM179 664h1v11h-1zM896 720h1v4h-1zM752 700h1v17h-1zM1366 645h1v8h-1zM1475 768h1v17h-1zM473 731h1v19h-1zM1056 833h1v2h-1zM1304 669h1v3h-1zM1179 673h1v19h-1zM98 756h1v4h-1zM1444 662h1v8h-1zM444 684h1v17h-1zM530 733h1v6h-1zM1049 805h1v5h-1zM88 804h1v3h-1zM963 738h1v7h-1zM104 739h1v14h-1zM660 737h1v3h-1zM659 740h1v3h-1zM1597 795h1v2h-1zM507 644h1v3h-1zM927 667h1v20h-1zM151 715h1v10h-1zM674 757h1v6h-1zM1756 680h1v8h-1zM1520 670h1v8h-1zM1221 738h1v18h-1zM439 751h1v6h-1zM1409 693h1v6h-1zM247 702h1v3h-1zM949 708h1v16h-1zM1360 694h1v7h-1zM205 628h1v16h-1zM1110 741h1v10h-1zM1783 723h1v15h-1zM435 730h1v3h-1zM1651 694h1v9h-1zM1387 624h1v8h-1zM709 709h1v10h-1zM1788 702h1v9h-1zM1190 754h1v4h-1zM505 651h1v3h-1zM791 778h1v7h-1zM323 674h1v7h-1zM1052 820h1v5h-1zM614 823h1v6h-1zM526 697h1v21h-1zM1614 707h1v9h-1zM1796 681h1v7h-1zM629 838h1v2h-1zM380 777h1v7h-1zM1417 770h1v8h-1zM1491 758h1v3h-1zM603 781h1v10h-1zM1470 625h1v17h-1zM258 787h1v4h-1zM459 773h1v5h-1zM987 667h1v4h-1zM662 731h1v3h-1zM1770 639h1v11h-1zM563 847h1v2h-1zM274 744h1v2h-1zM447 671h1v2h-1zM484 738h1v5h-1zM1516 656h1v7h-1zM1400 666h1v9h-1zM722 714h1v21h-1zM1283 798h1v6h-1zM1194 727h1v7h-1zM1615 716h1v9h-1zM331 692h1v13h-1zM303 640h1v2h-1zM1777 674h1v3h-1zM588 808h1v32h-1zM1004 678h1v10h-1zM56 654h1v2h-1zM1763 630h1v7h-1zM508 641h1v3h-1zM1704 664h1v4h-1zM1707 670h1v6h-1zM106 710h1v14h-1zM818 694h1v3h-1zM964 745h1v7h-1zM1399 675h1v9h-1zM127 775h1v3h-1zM1253 743h1v8h-1zM256 780h1v4h-1zM809 702h1v5h-1zM406 719h1v13h-1zM59 656h1v7h-1zM427 777h1v10h-1zM718 697h1v10h-1zM1461 641h1v3h-1zM1750 737h1v11h-1zM785 773h1v4h-1zM498 665h1v20h-1zM1662 747h1v10h-1zM306 630h1v3h-1zM1736 819h1v5h-1zM1125 668h1v3h-1zM431 746h1v4h-1zM866 665h1v13h-1zM766 715h1v23h-1zM1504 699h1v6h-1zM690 633h1v4h-1zM671 740h1v5h-1zM1331 786h1v6h-1zM877 738h1v6h-1zM330 680h1v12h-1zM1670 723h1v3h-1zM1252 735h1v8h-1zM1508 656h1v11h-1zM305 633h1v3h-1zM1432 770h1v20h-1zM816 703h1v6h-1zM393 758h1v7h-1zM730 747h1v13h-1zM1001 698h1v7h-1zM1355 702h1v6h-1zM1619 748h1v6h-1zM1792 669h1v8h-1zM52 663h1v10h-1zM1346 774h1v11h-1zM64 680h1v5h-1zM487 715h1v8h-1zM1425 774h1v7h-1zM1658 752h1v3h-1zM279 726h1v5h-1zM373 720h1v25h-1zM852 704h1v7h-1zM1558 643h1v4h-1zM162 673h1v8h-1zM470 790h1v10h-1zM89 807h1v3h-1zM223 808h1v2h-1zM1081 838h1v4h-1zM1446 665h1v12h-1zM1666 710h1v6h-1zM865 652h1v13h-1zM433 737h1v4h-1zM1236 833h1v3h-1zM1585 710h1v14h-1zM63 684h1v4h-1zM1347 781h1v11h-1zM39 702h1v8h-1zM1477 788h1v3h-1zM1127 674h1v5h-1zM1548 667h1v6h-1zM516 642h1v2h-1zM922 628h1v6h-1zM1501 689h1v4h-1zM821 701h1v3h-1zM399 706h1v11h-1zM1640 805h1v3h-1zM200 661h1v4h-1zM612 834h1v3h-1zM161 668h1v5h-1zM482 724h1v7h-1zM1775 681h1v4h-1zM547 821h1v6h-1zM277 736h1v2h-1zM174 721h1v12h-1zM1132 689h1v10h-1zM850 716h1v5h-1zM65 675h1v5h-1zM1667 712h1v4h-1zM371 713h1v13h-1zM271 772h1v16h-1zM1426 770h1v4h-1zM1456 650h1v2h-1zM1356 708h1v7h-1zM280 720h1v6h-1zM190 685h1v4h-1zM664 726h1v3h-1zM172 745h1v12h-1zM1759 659h1v7h-1zM1483 759h1v12h-1zM1479 795h1v3h-1zM995 675h1v9h-1zM799 806h1v4h-1zM1136 654h1v7h-1zM1245 807h1v26h-1zM262 803h1v4h-1zM1307 659h1v3h-1zM921 624h1v4h-1zM414 786h1v9h-1zM1284 794h1v6h-1zM623 822h1v3h-1zM1421 803h1v5h-1zM1575 709h1v16h-1zM1337 806h1v8h-1zM891 758h1v5h-1zM1376 629h1v2h-1zM1464 634h1v2h-1zM1408 699h1v7h-1zM186 655h1v7h-1zM1144 628h1v2h-1zM1559 641h1v2h-1zM806 736h1v25h-1zM404 707h1v6h-1zM533 717h1v7h-1zM868 693h1v17h-1zM75 771h1v9h-1zM278 731h1v5h-1zM1557 647h1v6h-1zM1171 612h1v2h-1zM264 811h1v2h-1zM1340 758h1v16h-1zM273 746h1v10h-1zM870 727h1v17h-1zM847 727h1v7h-1zM1028 805h1v3h-1zM356 641h1v4h-1zM118 699h1v8h-1zM139 757h1v9h-1zM185 651h1v4h-1zM312 680h1v16h-1zM1129 686h1v7h-1zM1039 806h1v3h-1zM78 763h1v8h-1zM728 769h1v5h-1zM1027 808h1v4h-1zM1577 675h1v17h-1zM781 743h1v17h-1zM1526 640h1v2h-1zM1671 726h1v11h-1zM1440 694h1v6h-1zM389 776h1v2h-1zM1652 703h1v10h-1zM1294 774h1v2h-1zM239 802h1v11h-1zM795 798h1v2h-1zM1042 796h1v3h-1zM269 805h1v8h-1zM604 791h1v10h-1zM315 696h1v3h-1zM680 785h1v14h-1zM1712 706h1v11h-1zM1312 724h1v19h-1zM1333 797h1v4h-1zM648 695h1v5h-1zM763 683h1v5h-1zM1580 673h1v5h-1zM1342 734h1v8h-1zM99 760h1v4h-1zM772 730h1v19h-1zM1404 688h1v11h-1zM1519 678h1v4h-1zM758 698h1v7h-1zM1040 802h1v4h-1zM811 711h1v5h-1zM1672 737h1v17h-1zM1005 688h1v19h-1zM209 737h1v31h-1zM464 763h1v4h-1zM1396 703h1v5h-1zM193 678h1v3h-1zM1486 757h1v3h-1zM1329 772h1v7h-1zM336 672h1v9h-1zM1257 762h1v3h-1zM1407 706h1v6h-1zM378 791h1v6h-1zM93 799h1v13h-1zM754 674h1v9h-1zM437 739h1v6h-1zM1745 811h1v17h-1zM1416 757h1v13h-1zM955 675h1v6h-1zM867 678h1v15h-1zM888 747h1v5h-1zM203 639h1v8h-1zM1726 799h1v3h-1zM1117 689h1v7h-1zM656 744h1v7h-1zM1505 688h1v11h-1zM374 745h1v25h-1zM971 745h1v15h-1zM1730 809h1v2h-1zM210 768h1v16h-1zM980 693h1v10h-1zM880 756h1v6h-1zM608 827h1v2h-1zM1797 688h1v6h-1zM1465 632h1v2h-1zM1645 673h1v30h-1zM255 776h1v4h-1zM667 723h1v4h-1zM130 783h1v2h-1zM630 840h1v2h-1zM123 741h1v9h-1zM338 669h1v2h-1zM1566 647h1v6h-1zM946 660h1v16h-1zM150 725h1v15h-1zM1793 664h1v5h-1zM48 702h1v6h-1zM1691 769h1v9h-1zM1124 665h1v3h-1zM1747 778h1v17h-1zM1603 780h1v9h-1zM1318 797h1v5h-1zM536 753h1v14h-1zM1695 732h1v10h-1zM1269 740h1v10h-1zM1438 705h1v4h-1zM676 769h1v6h-1zM491 718h1v11h-1zM1687 745h1v11h-1zM873 756h1v9h-1zM1489 764h1v2h-1zM424 774h1v19h-1zM1250 719h1v8h-1zM1629 753h1v6h-1zM157 685h1v5h-1zM657 746h1v3h-1zM1015 715h1v8h-1zM1647 661h1v9h-1zM974 789h1v15h-1zM1198 656h1v19h-1zM1043 794h1v2h-1zM1316 777h1v10h-1zM1663 737h1v10h-1zM1184 740h1v11h-1zM423 755h1v19h-1zM1646 657h1v16h-1zM112 769h1v8h-1zM1394 683h1v10h-1zM1544 626h1v11h-1zM415 776h1v10h-1zM1688 756h1v11h-1zM1576 692h1v17h-1zM783 776h1v9h-1zM1509 650h1v6h-1zM540 791h1v2h-1zM1074 845h1v4h-1zM1627 766h1v4h-1zM410 789h1v20h-1zM960 716h1v8h-1zM178 675h1v12h-1zM259 791h1v4h-1zM534 724h1v14h-1zM1754 695h1v9h-1zM988 671h1v4h-1zM220 798h1v5h-1zM1078 830h1v2h-1zM41 686h1v8h-1zM1719 714h1v6h-1zM227 815h1v2h-1zM1085 846h1v2h-1zM976 773h1v25h-1zM1443 670h1v8h-1zM1073 849h1v3h-1zM300 634h1v2h-1zM318 687h1v2h-1zM853 695h1v9h-1zM894 733h1v8h-1zM154 700h1v5h-1zM1714 728h1v11h-1zM800 810h1v4h-1zM283 706h1v3h-1zM765 691h1v24h-1zM517 644h1v2h-1zM828 765h1v2h-1zM786 769h1v4h-1zM216 769h1v7h-1zM945 651h1v9h-1zM1139 640h1v5h-1zM822 704h1v3h-1zM857 657h1v9h-1zM1681 808h1v12h-1zM972 760h1v15h-1zM1287 777h1v6h-1zM294 674h1v12h-1zM1076 836h1v5h-1zM62 677h1v7h-1zM1476 785h1v3h-1zM1430 791h1v6h-1zM1286 783h1v5h-1zM839 724h1v20h-1zM263 807h1v4h-1zM617 809h1v3h-1zM152 710h1v5h-1zM620 815h1v2h-1zM1142 631h1v2h-1zM355 637h1v4h-1zM478 707h1v3h-1zM1410 687h1v6h-1zM1313 743h1v14h-1zM788 761h1v4h-1zM1137 649h1v5h-1zM198 667h1v2h-1zM1352 686h1v11h-1zM1405 699h1v11h-1zM68 662h1v18h-1zM1264 699h1v8h-1zM979 703h1v18h-1zM1673 754h1v17h-1zM1247 755h1v26h-1zM768 761h1v24h-1zM419 741h1v8h-1zM1277 777h1v7h-1zM1092 842h1v11h-1zM76 763h1v8h-1zM249 696h1v9h-1zM749 752h1v9h-1zM103 753h1v14h-1zM1616 725h1v9h-1zM332 705h1v7h-1zM235 767h1v10h-1zM1595 801h1v4h-1zM1708 676h1v6h-1zM1588 752h1v14h-1zM686 658h1v7h-1zM1054 828h1v2h-1zM1660 758h1v3h-1zM260 795h1v4h-1zM67 665h1v5h-1zM810 707h1v4h-1zM669 731h1v5h-1zM1104 783h1v3h-1zM352 625h1v5h-1zM1305 665h1v4h-1zM164 690h1v9h-1zM1328 768h1v4h-1zM1772 660h1v11h-1zM1311 705h1v19h-1zM50 683h1v10h-1zM124 750h1v10h-1zM1320 783h1v8h-1zM1103 786h1v3h-1zM1617 734h1v8h-1zM1638 799h1v3h-1zM1197 675h1v20h-1zM339 671h1v2h-1zM1398 684h1v10h-1zM1373 636h1v3h-1zM1789 693h1v9h-1zM1310 686h1v19h-1zM1692 760h1v9h-1zM1460 644h1v2h-1zM1234 827h1v2h-1zM232 779h1v12h-1zM1620 754h1v6h-1zM1532 641h1v2h-1zM1749 748h1v14h-1zM1120 670h1v6h-1zM1106 776h1v4h-1zM442 718h1v17h-1zM495 724h1v20h-1zM1175 622h1v3h-1zM936 719h1v15h-1zM596 744h1v14h-1zM429 757h1v10h-1zM244 712h1v11h-1zM1336 808h1v4h-1zM1502 693h1v5h-1zM665 723h1v3h-1zM609 829h1v2h-1zM1650 686h1v8h-1zM831 771h1v2h-1zM363 785h1v5h-1zM1497 703h1v14h-1zM146 784h1v8h-1zM710 719h1v5h-1zM1427 773h1v6h-1zM143 757h1v10h-1zM1751 726h1v11h-1zM411 809h1v10h-1zM996 684h1v9h-1zM1422 796h1v7h-1zM1176 625h1v11h-1zM938 689h1v15h-1zM1755 688h1v7h-1zM774 702h1v10h-1zM1632 736h1v8h-1zM1359 701h1v6h-1zM561 844h1v2h-1zM137 776h1v9h-1zM637 831h1v9h-1zM1729 807h1v2h-1zM405 713h1v6h-1zM1351 697h1v21h-1zM252 736h1v15h-1zM370 726h1v12h-1zM275 741h1v3h-1zM641 792h1v14h-1zM673 751h1v6h-1zM700 623h1v6h-1zM1223 775h1v18h-1zM543 798h1v4h-1zM994 670h1v5h-1zM874 748h1v8h-1zM1309 667h1v19h-1zM304 636h1v4h-1zM1200 626h1v10h-1zM401 691h1v5h-1zM422 737h1v18h-1zM119 707h1v8h-1zM1024 810h1v15h-1zM313 696h1v9h-1zM1130 693h1v7h-1zM1630 746h1v7h-1zM790 772h1v6h-1zM1007 726h1v19h-1zM170 767h1v9h-1zM600 770h1v3h-1zM176 698h1v11h-1zM79 771h1v9h-1zM734 703h1v8h-1zM1266 713h1v9h-1zM1462 639h1v2h-1zM1567 653h1v6h-1zM421 727h1v10h-1zM627 834h1v2h-1zM909 656h1v17h-1zM930 725h1v10h-1zM298 630h1v7h-1zM1133 680h1v9h-1zM1339 774h1v16h-1zM934 739h1v2h-1zM707 691h1v9h-1zM1445 658h1v7h-1zM1013 731h1v10h-1zM605 801h1v10h-1zM1038 809h1v2h-1zM1008 745h1v19h-1zM1343 740h1v11h-1zM1026 812h1v5h-1zM859 640h1v9h-1zM1641 795h1v16h-1zM942 659h1v3h-1zM1571 706h1v18h-1zM1524 644h1v5h-1zM1330 779h1v7h-1zM159 676h1v4h-1zM1041 799h1v3h-1zM539 789h1v2h-1zM705 672h1v10h-1zM797 802h1v2h-1zM230 802h1v12h-1zM841 685h1v20h-1zM621 817h1v3h-1zM348 655h1v8h-1zM771 749h1v19h-1zM889 752h1v4h-1zM1109 751h1v9h-1zM463 767h1v4h-1zM466 765h1v8h-1zM711 724h1v2h-1zM1222 756h1v19h-1zM544 802h1v6h-1zM1057 835h1v2h-1zM668 727h1v4h-1zM1006 707h1v19h-1zM316 692h1v4h-1zM1794 668h1v6h-1zM334 690h1v9h-1zM408 751h1v19h-1zM58 652h1v4h-1zM1586 724h1v14h-1zM1255 757h1v2h-1zM1296 771h1v2h-1zM1546 647h1v10h-1zM1270 750h1v12h-1zM345 670h1v3h-1zM1661 757h1v6h-1zM460 778h1v3h-1zM886 741h1v2h-1zM407 732h1v19h-1zM425 793h1v10h-1zM1753 704h1v11h-1zM1568 659h1v11h-1zM1251 727h1v8h-1zM793 791h1v5h-1zM1507 667h1v10h-1zM1193 734h1v7h-1zM1431 790h1v11h-1zM982 673h1v10h-1zM147 769h1v15h-1zM885 743h1v5h-1zM1174 619h1v3h-1zM1220 728h1v10h-1zM368 750h1v13h-1zM1185 751h1v6h-1zM128 778h1v2h-1zM1000 705h1v8h-1zM628 836h1v2h-1zM51 673h1v10h-1zM257 784h1v3h-1zM789 765h1v7h-1zM1271 762h1v11h-1zM486 723h1v8h-1zM1606 752h1v9h-1zM1395 693h1v10h-1zM1298 759h1v10h-1zM1633 744h1v14h-1zM1545 637h1v10h-1zM1113 716h1v7h-1zM944 653h1v3h-1zM1689 767h1v11h-1zM1122 660h1v4h-1zM1053 825h1v3h-1zM1737 824h1v5h-1zM1126 671h1v3h-1zM97 754h1v7h-1zM485 731h1v7h-1zM876 735h1v4h-1zM1082 842h1v2h-1zM1596 797h1v4h-1zM1191 747h1v7h-1zM615 817h1v6h-1zM1702 672h1v4h-1zM883 753h1v5h-1zM142 747h1v10h-1zM457 764h1v5h-1zM1563 633h1v3h-1zM924 641h1v7h-1zM1447 677h1v12h-1zM1303 672h1v11h-1zM246 705h1v3h-1zM1495 730h1v14h-1zM1634 758h1v14h-1zM1490 761h1v3h-1zM1058 837h1v2h-1zM823 707h1v8h-1zM44 677h1v7h-1zM735 711h1v14h-1zM1705 661h1v3h-1zM90 810h1v3h-1zM1135 661h1v10h-1zM1300 721h1v19h-1zM1244 833h1v13h-1zM395 745h1v7h-1zM413 795h1v9h-1zM1665 716h1v10h-1zM1424 781h1v8h-1zM1480 794h1v6h-1zM672 745h1v6h-1zM1780 676h1v16h-1zM1579 669h1v4h-1zM1757 673h1v7h-1zM1225 811h1v10h-1zM417 758h1v9h-1zM1734 811h1v3h-1zM965 752h1v4h-1zM1593 808h1v4h-1zM1361 687h1v7h-1zM475 716h1v3h-1zM74 780h1v9h-1zM1009 764h1v11h-1zM324 666h1v8h-1zM1344 751h1v12h-1zM824 715h1v14h-1zM180 658h1v6h-1zM736 725h1v14h-1zM1265 704h1v9h-1zM694 628h1v2h-1zM1436 713h1v4h-1zM714 729h1v2h-1zM531 727h1v6h-1zM515 640h1v2h-1zM402 694h1v7h-1zM855 676h1v9h-1zM214 767h1v4h-1zM506 647h1v4h-1zM820 699h1v2h-1zM381 773h1v4h-1zM350 638h1v8h-1zM80 780h1v9h-1zM1764 626h1v4h-1zM871 744h1v17h-1zM366 771h1v5h-1zM357 645h1v17h-1zM116 703h1v17h-1zM213 771h1v4h-1zM72 785h1v18h-1zM35 741h1v6h-1zM726 780h1v5h-1zM1263 707h1v14h-1zM1390 648h1v7h-1zM261 799h1v4h-1zM441 735h1v17h-1zM1787 711h1v10h-1zM1776 677h1v4h-1zM651 684h1v7h-1zM892 750h1v8h-1zM281 715h1v5h-1zM1493 752h1v3h-1zM211 778h1v4h-1zM646 704h1v11h-1zM1079 832h1v3h-1zM1587 738h1v14h-1zM335 681h1v9h-1zM1668 716h1v3h-1zM446 673h1v2h-1zM377 797h1v7h-1zM1517 663h1v7h-1zM1744 828h1v9h-1zM1418 778h1v8h-1zM957 689h1v9h-1zM1771 650h1v10h-1zM1334 801h1v4h-1zM1581 678h1v4h-1zM376 795h1v13h-1zM202 647h1v7h-1zM843 681h1v12h-1zM1778 670h1v4h-1zM778 702h1v8h-1zM1116 696h1v7h-1zM1569 670h1v18h-1zM808 699h1v13h-1zM183 653h1v2h-1zM759 705h1v4h-1zM597 758h1v7h-1zM95 773h1v13h-1zM201 654h1v7h-1zM384 777h1v2h-1zM1115 703h1v7h-1zM1738 829h1v5h-1zM983 663h1v10h-1zM1101 779h1v8h-1zM434 732h1v5h-1zM529 739h1v6h-1zM1272 773h1v12h-1zM1047 800h1v2h-1zM1602 789h1v5h-1zM1453 673h1v13h-1zM1530 637h1v2h-1zM1791 677h1v8h-1zM1694 742h1v9h-1zM234 761h1v7h-1zM1798 694h1v4h-1zM199 665h1v2h-1zM678 782h1v6h-1zM1451 700h1v13h-1zM449 668h1v2h-1zM432 741h1v5h-1zM985 660h1v3h-1zM1238 840h1v4h-1zM1293 776h1v2h-1zM631 842h1v2h-1zM1285 788h1v6h-1zM163 681h1v9h-1zM292 693h1v2h-1zM607 821h1v6h-1zM100 764h1v4h-1zM1463 636h1v3h-1zM1002 690h1v8h-1zM1131 699h1v5h-1zM1613 698h1v9h-1zM849 721h1v5h-1zM1011 750h1v10h-1zM1455 652h1v7h-1zM1767 630h1v2h-1zM962 731h1v7h-1zM483 731h1v8h-1zM1515 649h1v7h-1zM1306 662h1v3h-1zM307 627h1v3h-1zM719 687h1v10h-1zM1542 623h1v5h-1zM1375 631h1v3h-1zM1727 802h1v2h-1zM1717 727h1v7h-1zM1097 750h1v11h-1zM1564 636h1v6h-1zM218 784h1v7h-1zM639 814h1v9h-1zM1488 762h1v2h-1zM1441 686h1v8h-1zM1560 639h1v2h-1zM1374 634h1v2h-1zM160 671h1v5h-1zM81 789h1v8h-1zM851 711h1v5h-1zM1259 762h1v8h-1zM37 719h1v11h-1zM784 777h1v5h-1zM541 793h1v2h-1zM1610 710h1v10h-1zM276 738h1v3h-1zM1281 780h1v9h-1zM397 727h1v10h-1zM228 817h1v2h-1zM598 765h1v3h-1zM1709 682h1v5h-1zM327 647h1v7h-1zM706 682h1v9h-1zM301 636h1v2h-1zM1715 739h1v6h-1zM815 709h1v6h-1zM801 814h1v3h-1zM829 767h1v2h-1zM1051 815h1v5h-1zM296 649h1v12h-1zM819 696h1v3h-1zM625 828h1v3h-1zM326 651h1v8h-1zM467 773h1v7h-1zM1622 766h1v4h-1zM379 784h1v7h-1zM814 715h1v6h-1zM862 618h1v7h-1zM848 726h1v5h-1zM545 808h1v6h-1zM1386 620h1v4h-1zM1484 753h1v6h-1zM844 693h1v11h-1zM1541 628h1v4h-1zM1547 657h1v10h-1zM221 803h1v2h-1zM619 813h1v2h-1zM314 699h1v4h-1zM649 691h1v4h-1zM91 813h1v4h-1zM126 769h1v6h-1zM1111 731h1v10h-1zM1539 636h1v4h-1zM1657 749h1v3h-1zM1055 830h1v3h-1zM231 791h1v11h-1zM337 667h1v5h-1zM932 736h1v2h-1zM1401 661h1v6h-1zM1522 656h1v7h-1zM353 628h1v4h-1zM1690 778h1v6h-1zM744 755h1v3h-1zM101 768h1v4h-1zM107 703h1v8h-1zM1785 731h1v10h-1zM1118 683h1v6h-1zM1618 742h1v6h-1zM1639 802h1v3h-1zM743 758h1v4h-1zM1710 687h1v9h-1zM925 648h1v7h-1zM1448 689h1v13h-1zM194 675h1v3h-1zM1235 829h1v4h-1zM1533 643h1v2h-1zM1003 683h1v7h-1zM1172 614h1v3h-1zM224 810h1v2h-1zM966 750h1v3h-1zM1377 627h1v2h-1zM53 658h1v5h-1zM741 766h1v3h-1zM488 707h1v8h-1zM715 727h1v6h-1zM1718 720h1v7h-1zM1357 714h1v4h-1zM181 656h1v2h-1zM968 743h1v4h-1zM187 662h1v8h-1zM1529 635h1v2h-1zM1760 652h1v7h-1zM302 638h1v2h-1zM155 695h1v5h-1zM787 764h1v5h-1zM197 669h1v2h-1zM364 781h1v4h-1zM1016 707h1v8h-1zM1140 636h1v4h-1zM476 713h1v3h-1zM196 671h1v2h-1zM290 696h1v2h-1zM817 697h1v6h-1zM1138 645h1v4h-1zM812 716h1v5h-1zM1487 760h1v2h-1zM1102 787h1v5h-1zM1044 795h1v2h-1zM204 632h1v7h-1zM225 812h1v2h-1zM479 705h1v4h-1zM1469 626h1v2h-1zM1525 642h1v2h-1zM518 646h1v2h-1zM1256 759h1v3h-1zM1107 770h1v6h-1zM663 729h1v2h-1zM887 743h1v4h-1zM438 745h1v6h-1zM509 639h1v2h-1zM618 810h1v3h-1zM636 840h1v5h-1zM129 780h1v3h-1zM613 829h1v5h-1zM1105 780h1v3h-1zM1123 662h1v3h-1zM989 675h1v2h-1zM1173 617h1v2h-1zM382 774h1v2h-1zM458 769h1v4h-1zM1323 765h1v4h-1zM1045 797h1v2h-1zM794 796h1v2h-1zM287 700h1v2h-1zM666 721h1v2h-1zM340 673h1v2h-1zM191 684h1v3h-1zM299 631h1v3h-1zM461 775h1v4h-1zM1765 627h1v2h-1zM87 802h1v2h-1zM1527 638h1v2h-1zM692 631h1v1h-1zM990 675h1v1h-1zM226 814h1v1h-1zM1677 814h1v1h-1zM1534 643h3v1h-3zM1216 724h1v1h-1zM1324 765h1v1h-1zM558 840h1v1h-1zM1060 840h1v1h-1zM576 855h11v1h-11zM1600 793h2v1h-2zM133 788h2v1h-2zM265 812h4v1h-4zM564 849h1v1h-1zM1068 849h2v1h-2zM1087 849h1v1h-1zM1153 623h4v1h-4zM1209 623h1v1h-1zM1381 623h1v1h-1zM912 629h2v1h-2zM1467 629h1v1h-1zM1766 629h1v1h-1zM699 624h1v1h-1zM920 624h1v1h-1zM1150 624h3v1h-3zM1205 624h4v1h-4zM1380 624h1v1h-1zM901 715h5v1h-5zM747 758h1v1h-1zM557 839h1v1h-1zM1059 839h1v1h-1zM383 776h1v1h-1zM1292 776h1v1h-1zM555 836h1v1h-1zM1740 836h4v1h-4zM746 757h1v1h-1zM1188 757h2v1h-2zM1325 766h1v1h-1zM285 703h1v1h-1zM1029 806h2v1h-2zM745 756h1v1h-1zM1186 756h2v1h-2zM693 630h1v1h-1zM1143 630h1v1h-1zM832 773h5v1h-5zM1295 773h1v1h-1zM319 686h2v1h-2zM993 671h1v1h-1zM510 639h5v1h-5zM1372 639h1v1h-1zM1037 810h1v1h-1zM1731 810h2v1h-2zM388 778h1v1h-1zM898 718h1v1h-1zM1065 845h1v1h-1zM1084 845h1v1h-1zM1240 845h4v1h-4zM321 685h1v1h-1zM1031 807h2v1h-2zM342 678h1v1h-1zM698 625h1v1h-1zM919 625h1v1h-1zM1147 625h3v1h-3zM1202 625h3v1h-3zM1379 625h1v1h-1zM550 831h1v1h-1zM566 851h1v1h-1zM1072 851h1v1h-1zM1090 851h2v1h-2zM697 626h1v1h-1zM917 626h2v1h-2zM1146 626h1v1h-1zM1201 626h1v1h-1zM1378 626h1v1h-1zM1157 622h1v1h-1zM1382 622h2v1h-2zM519 648h2v1h-2zM1511 648h1v1h-1zM1233 826h1v1h-1zM1159 620h1v1h-1zM992 672h1v1h-1zM1549 672h4v1h-4zM182 655h1v1h-1zM500 655h4v1h-4zM386 780h1v1h-1zM54 657h1v1h-1zM554 835h1v1h-1zM1368 640h4v1h-4zM1230 823h1v1h-1zM1459 646h1v1h-1zM1513 646h1v1h-1zM565 850h1v1h-1zM1070 850h2v1h-2zM1088 850h2v1h-2zM55 656h1v1h-1zM1289 774h1v1h-1zM933 738h1v1h-1zM291 695h1v1h-1zM385 779h1v1h-1zM387 779h1v1h-1zM1165 617h2v1h-2zM695 627h2v1h-2zM915 627h2v1h-2zM1145 627h1v1h-1zM1067 848h1v1h-1zM1086 848h1v1h-1zM1678 815h1v1h-1zM86 802h1v1h-1zM560 843h1v1h-1zM632 843h4v1h-4zM1063 843h1v1h-1zM1162 618h3v1h-3zM184 652h1v1h-1zM573 854h3v1h-3zM83 801h3v1h-3zM57 653h1v1h-1zM390 775h1v1h-1zM1290 775h2v1h-2zM568 853h5v1h-5zM713 728h1v1h-1zM567 852h1v1h-1zM1046 799h1v1h-1zM1219 727h1v1h-1zM1168 615h1v1h-1zM914 628h1v1h-1zM1468 628h1v1h-1zM1227 821h2v1h-2zM1217 725h1v1h-1zM1064 844h1v1h-1zM1083 844h1v1h-1zM286 702h1v1h-1zM775 702h3v1h-3zM748 759h1v1h-1zM1623 769h4v1h-4zM1158 621h1v1h-1zM1384 621h2v1h-2zM1033 808h2v1h-2zM899 717h1v1h-1zM1326 767h2v1h-2zM1062 842h1v1h-1zM521 647h2v1h-2zM1512 647h1v1h-1zM691 632h1v1h-1zM1768 632h1v1h-1zM931 735h1v1h-1zM900 716h1v1h-1zM1733 811h1v1h-1zM288 699h1v1h-1zM1035 809h2v1h-2zM1457 649h1v1h-1zM1510 649h1v1h-1zM289 698h1v1h-1zM1680 818h1v1h-1zM551 832h1v1h-1zM562 846h1v1h-1zM1160 619h2v1h-2zM897 719h1v1h-1zM549 830h1v1h-1zM1598 794h2v1h-2zM552 833h1v1h-1zM1231 824h1v1h-1zM135 789h1v1h-1zM1229 822h1v1h-1zM553 834h1v1h-1zM1232 825h1v1h-1zM1169 614h1v1h-1zM1170 613h1v1h-1zM1061 841h1v1h-1zM448 670h1v1h-1zM132 787h1v1h-1zM1226 820h1v1h-1zM1218 726h1v1h-1zM1167 616h1v1h-1zM1537 642h1v1h-1z" fill="#f00"/>
<rect x="35" y="0" width="1" height="881" fill="#000"/>
<rect x="1855" y="0" width="1" height="881" fill="#000"/>
<rect x="35" y="880" width="1821" height="1" fill="#000"/>
<g fill="#000"><rect x="30" y="2" width="5" height="1"/><rect x="1855" y="2" width="6" height="1"/><rect x="33" y="7" width="2" height="1"/><rect x="1855" y="7" width="3" height="1"/><rect x="30" y="13" width="5" height="1"/><rect x="1855" y="13" width="6" height="1"/><rect x="33" y="18" width="2" height="1"/><rect x="1855" y="18" width="3" height="1"/><rect x="30" y="23" width="5" height="1"/><rect x="1855" y="23" width="6" height="1"/><rect x="33" y="29" width="2" height="1"/><rect x="1855" y="29" width="3" height="1"/><rect x="30" y="34" width="5" height="1"/><rect x="1855" y="34" width="6" height="1"/><rect x="33" y="39" width="2" height="1"/><rect x="1855" y="39" width="3" height="1"/><rect x="30" y="44" width="5" height="1"/><rect x="1855" y="44" width="6" height="1"/><rect x="33" y="50" width="2" height="1"/><rect x="1855" y="50" width="3" height="1"/><rect x="30" y="55" width="5" height="1"/><rect x="1855" y="55" width="6" height="1"/><rect x="33" y="60" width="2" height="1"/><rect x="1855" y="60" width="3" height="1"/><rect x="30" y="65" width="5" height="1"/><rect x="1855" y="65" width="6" height="1"/><rect x="33" y="71" width="2" height="1"/><rect x="1855" y="71" width="3" height="1"/><rect x="30" y="76" width="5" height="1"/><rect x="1855" y="76" width="6" height="1"/><rect x="33" y="81" width="2" height="1"/><rect x="1855" y="81" width="3" height="1"/><rect x="30" y="86" width="5" height="1"/><rect x="1855" y="86" width="6" height="1"/><rect x="33" y="92" width="2" height="1"/><rect x="1855" y="92" width="3" height="1"/><rect x="30" y="97" width="5" height="1"/><rect x="1855" y="97" width="6" height="1"/><rect x="33" y="102" width="2" height="1"/><rect x="1855" y="102" width="3" height="1"/><rect x="30" y="108" width="5" height="1"/><rect x="1855" y="108" width="6" height="1"/><rect x="33" y="113" width="2" height="1"/><rect x="1855" y="113" width="3" height="1"/><rect x="30" y="118" width="5" height="1"/><rect x="1855" y="118" width="6" height="1"/><rect x="33" y="123" width="2" height="1"/><rect x="1855" y="123" width="3" height="1"/><rect x="30" y="129" width="5" height="1"/><rect x="1855" y="129" width="6" height="1"/><rect x="33" y="134" width="2" height="1"/><rect x="1855" y="134" width="3" height="1"/><rect x="30" y="139" width="5" height="1"/><rect x="1855" y="139" width="6" height="1"/><rect x="33" y="144" width="2" height="1"/><rect x="1855" y="144" width="3" height="1"/><rect x="30" y="150" width="5" height="1"/><rect x="1855" y="150" width="6" height="1"/><rect x="33" y="155" width="2" height="1"/><rect x="1855" y="155" width="3" height="1"/><rect x="30" y="160" width="5" height="1"/><rect x="1855" y="160" width="6" height="1"/><rect x="33" y="166" width="2" height="1"/><rect x="1855" y="166" width="3" height="1"/><rect x="30" y="171" width="5" height="1"/><rect x="1855" y="171" width="6" height="1"/><rect x="33" y="176" width="2" height="1"/><rect x="1855" y="176" width="3" height="1"/><rect x="30" y="181" width="5" height="1"/><rect x="1855" y="181" width="6" height="1"/><rect x="33" y="187" width="2" height="1"/><rect x="1855" y="187" width="3" height="1"/><rect x="30" y="192" width="5" height="1"/><rect x="1855" y="192" width="6" height="1"/><rect x="33" y="197" width="2" height="1"/><rect x="1855" y="197" width="3" height="1"/><rect x="30" y="202" width="5" height="1"/><rect x="1855" y="202" width="6" height="1"/><rect x="33" y="208" width="2" height="1"/><rect x="1855" y="208" width="3" height="1"/><rect x="30" y="213" width="5" height="1"/><rect x="1855" y="213" width="6" height="1"/><rect x="33" y="218" width="2" height="1"/><rect x="1855" y="218" width="3" height="1"/><rect x="30" y="223" width="5" height="1"/><rect x="1855" y="223" width="6" height="1"/><rect x="33" y="229" width="2" height="1"/><rect x="1855" y="229" width="3" height="1"/><rect x="30" y="234" width="5" height="1"/><rect x="1855" y="234" width="6" height="1"/><rect x="33" y="239" width="2" height="1"/><rect x="1855" y="239" width="3" height="1"/><rect x="30" y="245" width="5" height="1"/><rect x="1855" y="245" width="6" height="1"/><rect x="33" y="250" width="2" height="1"/><rect x="1855" y="250" width="3" height="1"/><rect x="30" y="255" width="5" height="1"/><rect x="1855" y="255" width="6" height="1"/><rect x="33" y="260" width="2" height="1"/><rect x="1855" y="260" width="3" height="1"/><rect x="30" y="266" width="5" height="1"/><rect x="1855" y="266" width="6" height="1"/><rect x="33" y="271" width="2" height="1"/><rect x="1855" y="271" width="3" height="1"/><rect x="30" y="276" width="5" height="1"/><rect x="1855" y="276" width="6" height="1"/><rect x="33" y="281" width="2" height="1"/><rect x="1855" y="281" width="3" height="1"/><rect x="30" y="287" width="5" height="1"/><rect x="1855" y="287" width="6" height="1"/><rect x="33" y="292" width="2" height="1"/><rect x="1855" y="292" width="3" height="1"/><rect x="30" y="297" width="5" height="1"/><rect x="1855" y="297" width="6" height="1"/><rect x="33" y="302" width="2" height="1"/><rect x="1855" y="302" width="3" height="1"/><rect x="30" y="308" width="5" height="1"/><rect x="1855" y="308" width="6" height="1"/><rect x="33" y="313" width="2" height="1"/><rect x="1855" y="313" width="3" height="1"/><rect x="30" y="318" width="5" height="1"/><rect x="1855" y="318" width="6" height="1"/><rect x="33" y="324" width="2" height="1"/><rect x="1855" y="324" width="3" height="1"/><rect x="30" y="329" width="5" height="1"/><rect x="1855" y="329" width="6" height="1"/><rect x="33" y="334" width="2" height="1"/><rect x="1855" y="334" width="3" height="1"/><rect x="30" y="339" width="5" height="1"/><rect x="1855" y="339" width="6" height="1"/><rect x="33" y="345" width="2" height="1"/><rect x="1855" y="345" width="3" height="1"/><rect x="30" y="350" width="5" height="1"/><rect x="1855" y="350" width="6" height="1"/><rect x="33" y="355" width="2" height="1"/><rect x="1855" y="355" width="3" height="1"/><rect x="30" y="360" width="5" height="1"/><rect x="1855" y="360" width="6" height="1"/><rect x="33" y="366" width="2" height="1"/><rect x="1855" y="366" width="3" height="1"/><rect x="30" y="371" width="5" height="1"/><rect x="1855" y="371" width="6" height="1"/><rect x="33" y="376" width="2" height="1"/><rect x="1855" y="376" width="3" height="1"/><rect x="30" y="381" width="5" height="1"/><rect x="1855" y="381" width="6" height="1"/><rect x="33" y="387" width="2" height="1"/><rect x="1855" y="387" width="3" height="1"/><rect x="30" y="392" width="5" height="1"/><rect x="1855" y="392" width="6" height="1"/><rect x="33" y="397" width="2" height="1"/><rect x="1855" y="397" width="3" height="1"/><rect x="30" y="403" width="5" height="1"/><rect x="1855" y="403" width="6" height="1"/><rect x="33" y="408" width="2" height="1"/><rect x="1855" y="408" width="3" height="1"/><rect x="30" y="413" width="5" height="1"/><rect x="1855" y="413" width="6" height="1"/><rect x="33" y="418" width="2" height="1"/><rect x="1855" y="418" width="3" height="1"/><rect x="30" y="424" width="5" height="1"/><rect x="1855" y="424" width="6" height="1"/><rect x="33" y="429" width="2" height="1"/><rect x="1855" y="429" width="3" height="1"/><rect x="30" y="434" width="5" height="1"/><rect x="1855" y="434" width="6" height="1"/><rect x="33" y="439" width="2" height="1"/><rect x="1855" y="439" width="3" height="1"/><rect x="30" y="445" width="5" height="1"/><rect x="1855" y="445" width="6" height="1"/><rect x="33" y="450" width="2" height="1"/><rect x="1855" y="450" width="3" height="1"/><rect x="30" y="455" width="5" height="1"/><rect x="1855" y="455" width="6" height="1"/><rect x="33" y="460" width="2" height="1"/><rect x="1855" y="460" width="3" height="1"/><rect x="30" y="466" width="5" height="1"/><rect x="1855" y="466" width="6" height="1"/><rect x="33" y="471" width="2" height="1"/><rect x="1855" y="471" width="3" height="1"/><rect x="30" y="476" width="5" height="1"/><rect x="1855" y="476" width="6" height="1"/><rect x="33" y="482" width="2" height="1"/><rect x="1855" y="482" width="3" height="1"/><rect x="30" y="487" width="5" height="1"/><rect x="1855" y="487" width="6" height="1"/><rect x="33" y="492" width="2" height="1"/><rect x="1855" y="492" width="3" height="1"/><rect x="30" y="497" width="5" height="1"/><rect x="1855" y="497" width="6" height="1"/><rect x="33" y="503" width="2" height="1"/><rect x="1855" y="503" width="3" height="1"/><rect x="30" y="508" width="5" height="1"/><rect x="1855" y="508" width="6" height="1"/><rect x="33" y="513" width="2" height="1"/><rect x="1855" y="513" width="3" height="1"/><rect x="30" y="518" width="5" height="1"/><rect x="1855" y="518" width="6" height="1"/><rect x="33" y="524" width="2" height="1"/><rect x="1855" y="524" width="3" height="1"/><rect x="30" y="529" width="5" height="1"/><rect x="1855" y="529" width="6" height="1"/><rect x="33" y="534" width="2" height="1"/><rect x="1855" y="534" width="3" height="1"/><rect x="30" y="540" width="5" height="1"/><rect x="1855" y="540" width="6" height="1"/><rect x="33" y="545" width="2" height="1"/><rect x="1855" y="545" width="3" height="1"/><rect x="30" y="550" width="5" height="1"/><rect x="1855" y="550" width="6" height="1"/><rect x="33" y="555" width="2" height="1"/><rect x="1855" y="555" width="3" height="1"/><rect x="30" y="561" width="5" height="1"/><rect x="1855" y="561" width="6" height="1"/><rect x="33" y="566" width="2" height="1"/><rect x="1855" y="566" width="3" height="1"/><rect x="30" y="571" width="5" height="1"/><rect x="1855" y="571" width="6" height="1"/><rect x="33" y="576" width="2" height="1"/><rect x="1855" y="576" width="3" height="1"/><rect x="30" y="582" width="5" height="1"/><rect x="1855" y="582" width="6" height="1"/><rect x="33" y="587" width="2" height="1"/><rect x="1855" y="587" width="3" height="1"/><rect x="33" y="877" width="2" height="1"/><rect x="33" y="874" width="2" height="1"/><rect x="33" y="872" width="2" height="1"/><rect x="30" y="869" width="5" height="1"/><rect x="33" y="867" width="2" height="1"/><rect x="33" y="864" width="2" height="1"/><rect x="33" y="862" width="2" height="1"/><rect x="33" y="859" width="2" height="1"/><rect x="30" y="857" width="5" height="1"/><rect x="33" y="854" width="2" height="1"/><rect x="33" y="852" width="2" height="1"/><rect x="33" y="849" width="2" height="1"/><rect x="33" y="847" width="2" height="1"/><rect x="30" y="844" width="5" height="1"/><rect x="33" y="842" width="2" height="1"/><rect x="33" y="839" width="2" height="1"/><rect x="33" y="837" width="2" height="1"/><rect x="33" y="834" width="2" height="1"/><rect x="30" y="832" width="5" height="1"/><rect x="33" y="830" width="2" height="1"/><rect x="33" y="827" width="2" height="1"/><rect x="33" y="825" width="2" height="1"/><rect x="33" y="822" width="2" height="1"/><rect x="30" y="820" width="5" height="1"/><rect x="33" y="817" width="2" height="1"/><rect x="33" y="815" width="2" height="1"/><rect x="33" y="812" width="2" height="1"/><rect x="33" y="810" width="2" height="1"/><rect x="30" y="807" width="5" height="1"/><rect x="33" y="805" width="2" height="1"/><rect x="33" y="802" width="2" height="1"/><rect x="33" y="800" width="2" height="1"/><rect x="33" y="797" width="2" height="1"/><rect x="30" y="795" width="5" height="1"/><rect x="33" y="792" width="2" height="1"/><rect x="33" y="790" width="2" height="1"/><rect x="33" y="787" width="2" height="1"/><rect x="33" y="785" width="2" height="1"/><rect x="30" y="782" width="5" height="1"/><rect x="33" y="780" width="2" height="1"/><rect x="33" y="777" width="2" height="1"/><rect x="33" y="775" width="2" height="1"/><rect x="33" y="772" width="2" height="1"/><rect x="30" y="770" width="5" height="1"/><rect x="33" y="767" width="2" height="1"/><rect x="33" y="765" width="2" height="1"/><rect x="33" y="762" width="2" height="1"/><rect x="33" y="760" width="2" height="1"/><rect x="30" y="757" width="5" height="1"/><rect x="33" y="755" width="2" height="1"/><rect x="33" y="752" width="2" height="1"/><rect x="33" y="750" width="2" height="1"/><rect x="33" y="747" width="2" height="1"/><rect x="30" y="745" width="5" height="1"/><rect x="33" y="742" width="2" height="1"/><rect x="33" y="740" width="2" height="1"/><rect x="33" y="737" width="2" height="1"/><rect x="33" y="735" width="2" height="1"/><rect x="30" y="732" width="5" height="1"/><rect x="33" y="730" width="2" height="1"/><rect x="33" y="727" width="2" height="1"/><rect x="33" y="725" width="2" height="1"/><rect x="33" y="722" width="2" height="1"/><rect x="30" y="720" width="5" height="1"/><rect x="33" y="718" width="2" height="1"/><rect x="33" y="715" width="2" height="1"/><rect x="33" y="713" width="2" height="1"/><rect x="33" y="710" width="2" height="1"/><rect x="30" y="708" width="5" height="1"/><rect x="33" y="705" width="2" height="1"/><rect x="33" y="703" width="2" height="1"/><rect x="33" y="700" width="2" height="1"/><rect x="33" y="698" width="2" height="1"/><rect x="30" y="695" width="5" height="1"/><rect x="33" y="693" width="2" height="1"/><rect x="33" y="690" width="2" height="1"/><rect x="33" y="688" width="2" height="1"/><rect x="33" y="685" width="2" height="1"/><rect x="30" y="683" width="5" height="1"/><rect x="33" y="680" width="2" height="1"/><rect x="33" y="678" width="2" height="1"/><rect x="33" y="675" width="2" height="1"/><rect x="33" y="673" width="2" height="1"/><rect x="30" y="670" width="5" height="1"/><rect x="33" y="668" width="2" height="1"/><rect x="33" y="665" width="2" height="1"/><rect x="33" y="663" width="2" height="1"/><rect x="33" y="660" width="2" height="1"/><rect x="30" y="658" width="5" height="1"/><rect x="33" y="655" width="2" height="1"/><rect x="33" y="653" width="2" height="1"/><rect x="33" y="650" width="2" height="1"/><rect x="33" y="648" width="2" height="1"/><rect x="30" y="645" width="5" height="1"/><rect x="33" y="643" width="2" height="1"/><rect x="33" y="640" width="2" height="1"/><rect x="33" y="638" width="2" height="1"/><rect x="33" y="635" width="2" height="1"/><rect x="30" y="633" width="5" height="1"/><rect x="33" y="630" width="2" height="1"/><rect x="33" y="628" width="2" height="1"/><rect x="33" y="625" width="2" height="1"/><rect x="33" y="623" width="2" height="1"/><rect x="30" y="620" width="5" height="1"/><rect x="33" y="618" width="2" height="1"/><rect x="33" y="615" width="2" height="1"/><rect x="33" y="613" width="2" height="1"/><rect x="33" y="610" width="2" height="1"/><rect x="30" y="608" width="5" height="1"/><rect x="33" y="606" width="2" height="1"/><rect x="33" y="603" width="2" height="1"/><rect x="33" y="601" width="2" height="1"/><rect x="33" y="598" width="2" height="1"/><rect x="30" y="596" width="5" height="1"/><rect x="33" y="593" width="2" height="1"/><rect x="33" y="591" width="2" height="1"/><rect x="1855" y="876" width="3" height="1"/><rect x="1855" y="872" width="3" height="1"/><rect x="1855" y="868" width="3" height="1"/><rect x="1855" y="864" width="3" height="1"/><rect x="1855" y="861" width="6" height="1"/><rect x="1855" y="857" width="3" height="1"/><rect x="1855" y="853" width="3" height="1"/><rect x="1855" y="849" width="3" height="1"/><rect x="1855" y="845" width="3" height="1"/><rect x="1855" y="841" width="6" height="1"/><rect x="1855" y="837" width="3" height="1"/><rect x="1855" y="834" width="3" height="1"/><rect x="1855" y="830" width="3" height="1"/><rect x="1855" y="826" width="3" height="1"/><rect x="1855" y="822" width="6" height="1"/><rect x="1855" y="818" width="3" height="1"/><rect x="1855" y="814" width="3" height="1"/><rect x="1855" y="810" width="3" height="1"/><rect x="1855" y="806" width="3" height="1"/><rect x="1855" y="803" width="6" height="1"/><rect x="1855" y="799" width="3" height="1"/><rect x="1855" y="795" width="3" height="1"/><rect x="1855" y="791" width="3" height="1"/><rect x="1855" y="787" width="3" height="1"/><rect x="1855" y="783" width="6" height="1"/><rect x="1855" y="779" width="3" height="1"/><rect x="1855" y="776" width="3" height="1"/><rect x="1855" y="772" width="3" height="1"/><rect x="1855" y="768" width="3" height="1"/><rect x="1855" y="764" width="6" height="1"/><rect x="1855" y="760" width="3" height="1"/><rect x="1855" y="756" width="3" height="1"/><rect x="1855" y="752" width="3" height="1"/><rect x="1855" y="748" width="3" height="1"/><rect x="1855" y="745" width="6" height="1"/><rect x="1855" y="741" width="3" height="1"/><rect x="1855" y="737" width="3" height="1"/><rect x="1855" y="733" width="3" height="1"/><rect x="1855" y="729" width="3" height="1"/><rect x="1855" y="725" width="6" height="1"/><rect x="1855" y="721" width="3" height="1"/><rect x="1855" y="718" width="3" height="1"/><rect x="1855" y="714" width="3" height="1"/><rect x="1855" y="710" width="3" height="1"/><rect x="1855" y="706" width="6" height="1"/><rect x="1855" y="702" width="3" height="1"/><rect x="1855" y="698" width="3" height="1"/><rect x="1855" y="694" width="3" height="1"/><rect x="1855" y="690" width="3" height="1"/><rect x="1855" y="687" width="6" height="1"/><rect x="1855" y="683" width="3" height="1"/><rect x="1855" y="679" width="3" height="1"/><rect x="1855" y="675" width="3" height="1"/><rect x="1855" y="671" width="3" height="1"/><rect x="1855" y="667" width="6" height="1"/><rect x="1855" y="663" width="3" height="1"/><rect x="1855" y="660" width="3" height="1"/><rect x="1855" y="656" width="3" height="1"/><rect x="1855" y="652" width="3" height="1"/><rect x="1855" y="648" width="6" height="1"/><rect x="1855" y="644" width="3" height="1"/><rect x="1855" y="640" width="3" height="1"/><rect x="1855" y="636" width="3" height="1"/><rect x="1855" y="632" width="3" height="1"/><rect x="1855" y="629" width="6" height="1"/><rect x="1855" y="625" width="3" height="1"/><rect x="1855" y="621" width="3" height="1"/><rect x="1855" y="617" width="3" height="1"/><rect x="1855" y="613" width="3" height="1"/><rect x="1855" y="609" width="6" height="1"/><rect x="1855" y="605" width="3" height="1"/><rect x="1855" y="602" width="3" height="1"/><rect x="1855" y="598" width="3" height="1"/><rect x="1855" y="594" width="3" height="1"/><rect x="1855" y="590" width="6" height="1"/></g>
<g class="ax"><text x="26.7" y="16.4" text-anchor="end">11.5</text><text x="1887.3" y="16.6" text-anchor="end">11.5</text><text x="26.7" y="26.9" text-anchor="end">11.4</text><text x="1887.3" y="27.1" text-anchor="end">11.4</text><text x="26.7" y="37.4" text-anchor="end">11.3</text><text x="1887.3" y="37.6" text-anchor="end">11.3</text><text x="26.7" y="48.0" text-anchor="end">11.2</text><text x="1887.3" y="48.2" text-anchor="end">11.2</text><text x="26.7" y="58.5" text-anchor="end">11.1</text><text x="1887.3" y="58.7" text-anchor="end">11.1</text><text x="26.7" y="69.0" text-anchor="end">11.0</text><text x="1887.3" y="69.2" text-anchor="end">11.0</text><text x="26.7" y="79.6" text-anchor="end">10.9</text><text x="1887.3" y="79.8" text-anchor="end">10.9</text><text x="26.7" y="90.1" text-anchor="end">10.8</text><text x="1887.3" y="90.3" text-anchor="end">10.8</text><text x="26.7" y="100.6" text-anchor="end">10.7</text><text x="1887.3" y="100.8" text-anchor="end">10.7</text><text x="26.7" y="111.2" text-anchor="end">10.6</text><text x="1887.3" y="111.4" text-anchor="end">10.6</text><text x="26.7" y="121.7" text-anchor="end">10.5</text><text x="1887.3" y="121.9" text-anchor="end">10.5</text><text x="26.7" y="132.2" text-anchor="end">10.4</text><text x="1887.3" y="132.4" text-anchor="end">10.4</text><text x="26.7" y="142.8" text-anchor="end">10.3</text><text x="1887.3" y="143.0" text-anchor="end">10.3</text><text x="26.7" y="153.3" text-anchor="end">10.2</text><text x="1887.3" y="153.5" text-anchor="end">10.2</text><text x="26.7" y="163.8" text-anchor="end">10.1</text><text x="1887.3" y="164.0" text-anchor="end">10.1</text><text x="26.7" y="174.4" text-anchor="end">10.0</text><text x="1887.3" y="174.6" text-anchor="end">10.0</text><text x="26.7" y="184.9" text-anchor="end">9.9</text><text x="1887.3" y="185.1" text-anchor="end">9.9</text><text x="26.7" y="195.4" text-anchor="end">9.8</text><text x="1887.3" y="195.6" text-anchor="end">9.8</text><text x="26.7" y="206.0" text-anchor="end">9.7</text><text x="1887.3" y="206.2" text-anchor="end">9.7</text><text x="26.7" y="216.5" text-anchor="end">9.6</text><text x="1887.3" y="216.7" text-anchor="end">9.6</text><text x="26.7" y="227.0" text-anchor="end">9.5</text><text x="1887.3" y="227.2" text-anchor="end">9.5</text><text x="26.7" y="237.6" text-anchor="end">9.4</text><text x="1887.3" y="237.8" text-anchor="end">9.4</text><text x="26.7" y="248.1" text-anchor="end">9.3</text><text x="1887.3" y="248.3" text-anchor="end">9.3</text><text x="26.7" y="258.7" text-anchor="end">9.2</text><text x="1887.3" y="258.9" text-anchor="end">9.2</text><text x="26.7" y="269.2" text-anchor="end">9.1</text><text x="1887.3" y="269.4" text-anchor="end">9.1</text><text x="26.7" y="279.7" text-anchor="end">9.0</text><text x="1887.3" y="279.9" text-anchor="end">9.0</text><text x="26.7" y="290.3" text-anchor="end">8.9</text><text x="1887.3" y="290.5" text-anchor="end">8.9</text><text x="26.7" y="300.8" text-anchor="end">8.8</text><text x="1887.3" y="301.0" text-anchor="end">8.8</text><text x="26.7" y="311.3" text-anchor="end">8.7</text><text x="1887.3" y="311.5" text-anchor="end">8.7</text><text x="26.7" y="321.9" text-anchor="end">8.6</text><text x="1887.3" y="322.1" text-anchor="end">8.6</text><text x="26.7" y="332.4" text-anchor="end">8.5</text><text x="1887.3" y="332.6" text-anchor="end">8.5</text><text x="26.7" y="342.9" text-anchor="end">8.4</text><text x="1887.3" y="343.1" text-anchor="end">8.4</text><text x="26.7" y="353.5" text-anchor="end">8.3</text><text x="1887.3" y="353.7" text-anchor="end">8.3</text><text x="26.7" y="364.0" text-anchor="end">8.2</text><text x="1887.3" y="364.2" text-anchor="end">8.2</text><text x="26.7" y="374.5" text-anchor="end">8.1</text><text x="1887.3" y="374.7" text-anchor="end">8.1</text><text x="26.7" y="385.1" text-anchor="end">8.0</text><text x="1887.3" y="385.3" text-anchor="end">8.0</text><text x="26.7" y="395.6" text-anchor="end">7.9</text><text x="1887.3" y="395.8" text-anchor="end">7.9</text><text x="26.7" y="406.1" text-anchor="end">7.8</text><text x="1887.3" y="406.3" text-anchor="end">7.8</text><text x="26.7" y="416.7" text-anchor="end">7.7</text><text x="1887.3" y="416.9" text-anchor="end">7.7</text><text x="26.7" y="427.2" text-anchor="end">7.6</text><text x="1887.3" y="427.4" text-anchor="end">7.6</text><text x="26.7" y="437.8" text-anchor="end">7.5</text><text x="1887.3" y="437.9" text-anchor="end">7.5</text><text x="26.7" y="448.3" text-anchor="end">7.4</text><text x="1887.3" y="448.5" text-anchor="end">7.4</text><text x="26.7" y="458.8" text-anchor="end">7.3</text><text x="1887.3" y="459.0" text-anchor="end">7.3</text><text x="26.7" y="469.4" text-anchor="end">7.2</text><text x="1887.3" y="469.6" text-anchor="end">7.2</text><text x="26.7" y="479.9" text-anchor="end">7.1</text><text x="1887.3" y="480.1" text-anchor="end">7.1</text><text x="26.7" y="490.4" text-anchor="end">7.0</text><text x="1887.3" y="490.6" text-anchor="end">7.0</text><text x="26.7" y="501.0" text-anchor="end">6.9</text><text x="1887.3" y="501.2" text-anchor="end">6.9</text><text x="26.7" y="511.5" text-anchor="end">6.8</text><text x="1887.3" y="511.7" text-anchor="end">6.8</text><text x="26.7" y="522.0" text-anchor="end">6.7</text><text x="1887.3" y="522.2" text-anchor="end">6.7</text><text x="26.7" y="532.6" text-anchor="end">6.6</text><text x="1887.3" y="532.8" text-anchor="end">6.6</text><text x="26.7" y="543.1" text-anchor="end">6.5</text><text x="1887.3" y="543.3" text-anchor="end">6.5</text><text x="26.7" y="553.6" text-anchor="end">6.4</text><text x="1887.3" y="553.8" text-anchor="end">6.4</text><text x="26.7" y="564.2" text-anchor="end">6.3</text><text x="1887.3" y="564.4" text-anchor="end">6.3</text><text x="26.7" y="574.7" text-anchor="end">6.2</text><text x="1887.3" y="574.9" text-anchor="end">6.2</text><text x="26.7" y="585.2" text-anchor="end">6.1</text><text x="1887.3" y="585.4" text-anchor="end">6.1</text><text x="26.7" y="873.1" text-anchor="end">-5</text><text x="26.7" y="860.7" text-anchor="end">0</text><text x="26.7" y="848.3" text-anchor="end">5</text><text x="26.7" y="835.8" text-anchor="end">10</text><text x="26.7" y="823.4" text-anchor="end">15</text><text x="26.7" y="810.9" text-anchor="end">20</text><text x="26.7" y="798.5" text-anchor="end">25</text><text x="26.7" y="786.0" text-anchor="end">30</text><text x="26.7" y="773.6" text-anchor="end">35</text><text x="26.7" y="761.1" text-anchor="end">40</text><text x="26.7" y="748.7" text-anchor="end">45</text><text x="26.7" y="736.3" text-anchor="end">50</text><text x="26.7" y="723.8" text-anchor="end">55</text><text x="26.7" y="711.4" text-anchor="end">60</text><text x="26.7" y="698.9" text-anchor="end">65</text><text x="26.7" y="686.5" text-anchor="end">70</text><text x="26.7" y="674.0" text-anchor="end">75</text><text x="26.7" y="661.6" text-anchor="end">80</text><text x="26.7" y="649.1" text-anchor="end">85</text><text x="26.7" y="636.7" text-anchor="end">90</text><text x="26.7" y="624.3" text-anchor="end">95</text><text x="26.7" y="611.8" text-anchor="end">100</text><text x="26.7" y="599.4" text-anchor="end">105</text><text x="1887.3" y="864.6" text-anchor="end">5000</text><text x="1887.3" y="845.2" text-anchor="end">10000</text><text x="1887.3" y="825.9" text-anchor="end">15000</text><text x="1887.3" y="806.6" text-anchor="end">20000</text><text x="1887.3" y="787.2" text-anchor="end">25000</text><text x="1887.3" y="767.9" text-anchor="end">30000</text><text x="1887.3" y="748.6" text-anchor="end">35000</text><text x="1887.3" y="729.3" text-anchor="end">40000</text><text x="1887.3" y="709.9" text-anchor="end">45000</text><text x="1887.3" y="690.6" text-anchor="end">50000</text><text x="1887.3" y="671.3" text-anchor="end">55000</text><text x="1887.3" y="651.9" text-anchor="end">60000</text><text x="1887.3" y="632.6" text-anchor="end">65000</text><text x="1887.3" y="613.3" text-anchor="end">70000</text></g>
<rect x="35" y="891" width="1821" height="1" fill="#000"/>
<rect x="43" y="880" width="1" height="11" fill="#000"/>
<rect x="67" y="880" width="1" height="11" fill="#000"/>
<rect x="92" y="880" width="1" height="11" fill="#000"/>
<rect x="117" y="880" width="1" height="11" fill="#000"/>
<rect x="141" y="880" width="1" height="11" fill="#000"/>
<rect x="166" y="880" width="1" height="11" fill="#000"/>
<rect x="190" y="880" width="1" height="11" fill="#000"/>
<rect x="215" y="880" width="1" height="11" fill="#000"/>
<rect x="239" y="880" width="1" height="11" fill="#000"/>
<rect x="264" y="880" width="1" height="11" fill="#000"/>
<rect x="288" y="880" width="1" height="11" fill="#000"/>
<rect x="308" y="880" width="1" height="11" fill="#000"/>
<rect x="332" y="880" width="1" height="11" fill="#000"/>
<rect x="357" y="880" width="1" height="11" fill="#000"/>
<rect x="381" y="880" width="1" height="11" fill="#000"/>
<rect x="406" y="880" width="1" height="11" fill="#000"/>
<rect x="430" y="880" width="1" height="11" fill="#000"/>
<rect x="455" y="880" width="1" height="11" fill="#000"/>
<rect x="479" y="880" width="1" height="11" fill="#000"/>
<rect x="504" y="880" width="1" height="11" fill="#000"/>
<rect x="528" y="880" width="1" height="11" fill="#000"/>
<rect x="553" y="880" width="1" height="11" fill="#000"/>
<rect x="577" y="880" width="1" height="11" fill="#000"/>
<rect x="602" y="880" width="1" height="11" fill="#000"/>
<rect x="626" y="880" width="1" height="11" fill="#000"/>
<rect x="651" y="880" width="1" height="11" fill="#000"/>
<rect x="675" y="880" width="1" height="11" fill="#000"/>
<rect x="700" y="880" width="1" height="11" fill="#000"/>
<rect x="724" y="880" width="1" height="11" fill="#000"/>
<rect x="749" y="880" width="1" height="11" fill="#000"/>
<rect x="759" y="880" width="1" height="11" fill="#000"/>
<rect x="773" y="880" width="1" height="11" fill="#000"/>
<rect x="798" y="880" width="1" height="11" fill="#000"/>
<rect x="823" y="880" width="1" height="11" fill="#000"/>
<rect x="847" y="880" width="1" height="11" fill="#000"/>
<rect x="872" y="880" width="1" height="11" fill="#000"/>
<rect x="896" y="880" width="1" height="11" fill="#000"/>
<rect x="921" y="880" width="1" height="11" fill="#000"/>
<rect x="945" y="880" width="1" height="11" fill="#000"/>
<rect x="970" y="880" width="1" height="11" fill="#000"/>
<rect x="994" y="880" width="1" height="11" fill="#000"/>
<rect x="1019" y="880" width="1" height="11" fill="#000"/>
<rect x="1043" y="880" width="1" height="11" fill="#000"/>
<rect x="1068" y="880" width="1" height="11" fill="#000"/>
<rect x="1092" y="880" width="1" height="11" fill="#000"/>
<rect x="1117" y="880" width="1" height="11" fill="#000"/>
<rect x="1136" y="880" width="1" height="11" fill="#000"/>
<rect x="1156" y="880" width="1" height="11" fill="#000"/>
<rect x="1176" y="880" width="1" height="11" fill="#000"/>
<rect x="1200" y="880" width="1" height="11" fill="#000"/>
<rect x="1225" y="880" width="1" height="11" fill="#000"/>
<rect x="1249" y="880" width="1" height="11" fill="#000"/>
<rect x="1274" y="880" width="1" height="11" fill="#000"/>
<rect x="1298" y="880" width="1" height="11" fill="#000"/>
<rect x="1323" y="880" width="1" height="11" fill="#000"/>
<rect x="1347" y="880" width="1" height="11" fill="#000"/>
<rect x="1372" y="880" width="1" height="11" fill="#000"/>
<rect x="1396" y="880" width="1" height="11" fill="#000"/>
<rect x="1421" y="880" width="1" height="11" fill="#000"/>
<rect x="1445" y="880" width="1" height="11" fill="#000"/>
<rect x="1470" y="880" width="1" height="11" fill="#000"/>
<rect x="1494" y="880" width="1" height="11" fill="#000"/>
<rect x="1519" y="880" width="1" height="11" fill="#000"/>
<rect x="1538" y="880" width="1" height="11" fill="#000"/>
<rect x="1563" y="880" width="1" height="11" fill="#000"/>
<rect x="1587" y="880" width="1" height="11" fill="#000"/>
<rect x="1612" y="880" width="1" height="11" fill="#000"/>
<rect x="1636" y="880" width="1" height="11" fill="#000"/>
<rect x="1661" y="880" width="1" height="11" fill="#000"/>
<rect x="1685" y="880" width="1" height="11" fill="#000"/>
<rect x="1710" y="880" width="1" height="11" fill="#000"/>
<rect x="1734" y="880" width="1" height="11" fill="#000"/>
<rect x="1759" y="880" width="1" height="11" fill="#000"/>
<rect x="1783" y="880" width="1" height="11" fill="#000"/>
<rect x="1808" y="880" width="1" height="11" fill="#000"/>
<rect x="1832" y="880" width="1" height="11" fill="#000"/>
<rect x="43" y="880" width="1" height="22" fill="#000"/>
<rect x="141" y="880" width="1" height="22" fill="#000"/>
<rect x="254" y="880" width="1" height="22" fill="#000"/>
<rect x="357" y="880" width="1" height="22" fill="#000"/>
<rect x="460" y="880" width="1" height="22" fill="#000"/>
<rect x="572" y="880" width="1" height="22" fill="#000"/>
<rect x="675" y="880" width="1" height="22" fill="#000"/>
<rect x="764" y="880" width="1" height="22" fill="#000"/>
<rect x="872" y="880" width="1" height="22" fill="#000"/>
<rect x="970" y="880" width="1" height="22" fill="#000"/>
<rect x="1073" y="880" width="1" height="22" fill="#000"/>
<rect x="1171" y="880" width="1" height="22" fill="#000"/>
<rect x="1274" y="880" width="1" height="22" fill="#000"/>
<rect x="1377" y="880" width="1" height="22" fill="#000"/>
<rect x="1489" y="880" width="1" height="22" fill="#000"/>
<rect x="1587" y="880" width="1" height="22" fill="#000"/>
<rect x="1695" y="880" width="1" height="22" fill="#000"/>
<rect x="1808" y="880" width="1" height="22" fill="#000"/>
<g class="ax"><text x="45.2" y="889.2">3</text><text x="69.2" y="889.2">10</text><text x="94.2" y="889.2">17</text><text x="119.2" y="889.2">24</text><text x="143.2" y="889.2">1</text><text x="168.2" y="889.2">8</text><text x="192.2" y="889.2">15</text><text x="217.2" y="889.2">22</text><text x="241.2" y="889.2">29</text><text x="266.2" y="889.2">5</text><text x="290.2" y="889.2">12</text><text x="310.2" y="889.2">19</text><text x="334.2" y="889.2">26</text><text x="359.2" y="889.2">2</text><text x="383.2" y="889.2">9</text><text x="408.2" y="889.2">16</text><text x="432.2" y="889.2">23</text><text x="457.2" y="889.2">30</text><text x="481.2" y="889.2">7</text><text x="506.2" y="889.2">14</text><text x="530.2" y="889.2">21</text><text x="555.2" y="889.2">28</text><text x="579.2" y="889.2">4</text><text x="604.2" y="889.2">11</text><text x="628.2" y="889.2">18</text><text x="653.2" y="889.2">25</text><text x="677.2" y="889.2">2</text><text x="702.2" y="889.2">9</text><text x="726.2" y="889.2">16</text><text x="751.2" y="889.2">23</text><text x="775.2" y="889.2">6</text><text x="800.2" y="889.2">13</text><text x="825.2" y="889.2">20</text><text x="849.2" y="889.2">27</text><text x="874.2" y="889.2">3</text><text x="898.2" y="889.2">10</text><text x="923.2" y="889.2">17</text><text x="947.2" y="889.2">24</text><text x="972.2" y="889.2">3</text><text x="996.2" y="889.2">10</text><text x="1021.2" y="889.2">17</text><text x="1045.2" y="889.2">24</text><text x="1070.2" y="889.2">31</text><text x="1094.2" y="889.2">7</text><text x="1119.2" y="889.2">14</text><text x="1138.2" y="889.2">22</text><text x="1158.2" y="889.2">28</text><text x="1178.2" y="889.2">5</text><text x="1202.2" y="889.2">12</text><text x="1227.2" y="889.2">19</text><text x="1251.2" y="889.2">26</text><text x="1276.2" y="889.2">2</text><text x="1300.2" y="889.2">9</text><text x="1325.2" y="889.2">16</text><text x="1349.2" y="889.2">23</text><text x="1374.2" y="889.2">30</text><text x="1398.2" y="889.2">7</text><text x="1423.2" y="889.2">14</text><text x="1447.2" y="889.2">21</text><text x="1472.2" y="889.2">28</text><text x="1496.2" y="889.2">4</text><text x="1521.2" y="889.2">11</text><text x="1540.2" y="889.2">18</text><text x="1565.2" y="889.2">25</text><text x="1589.2" y="889.2">1</text><text x="1614.2" y="889.2">8</text><text x="1638.2" y="889.2">15</text><text x="1663.2" y="889.2">22</text><text x="1687.2" y="889.2">29</text><text x="1712.2" y="889.2">6</text><text x="1736.2" y="889.2">13</text><text x="1761.2" y="889.2">20</text><text x="1785.2" y="889.2">27</text><text x="1810.2" y="889.2">3</text><text x="1834.2" y="889.2">10</text><text x="44.8" y="900.4">June</text><text x="142.8" y="900.4">July</text><text x="255.8" y="900.4">August</text><text x="358.8" y="900.4">September</text><text x="461.8" y="900.4">October</text><text x="573.8" y="900.4">November</text><text x="676.8" y="900.4">December</text><text x="765.8" y="900.4">2025</text><text x="873.8" y="900.4">February</text><text x="971.8" y="900.4">March</text><text x="1074.8" y="900.4">April</text><text x="1172.8" y="900.4">May</text><text x="1275.8" y="900.4">June</text><text x="1378.8" y="900.4">July</text><text x="1490.8" y="900.4">August</text><text x="1588.8" y="900.4">September</text><text x="1696.8" y="900.4">October</text><text x="1809.8" y="900.4">November</text></g>
<rect x="1857.5" y="872.5" width="16" height="8" fill="none" stroke="#000"/>
<text x="1859" y="879" font-size="6" fill="#444">x100</text>
<text class="ax" x="945" y="11" text-anchor="middle" textLength="222" lengthAdjust="spacing">BREMBO (9.45000, 9.50500, 9.30500, 9.39500, -0.04500)</text>
<rect x="1125.5" y="31.5" width="410" height="88" fill="#e0f8d0" stroke="#000"/>
<text class="tb" x="1128" y="45.0" textLength="349" lengthAdjust="spacing">Small black candle dai 9,51 per Brembo che torna</text>
<text class="tb" x="1126.6" y="62.4" textLength="263.5" lengthAdjust="spacing">sui 9,395 in close con scambi in calo.</text>
<text class="tb" x="1128" y="79.7" textLength="398" lengthAdjust="spacing">Stop sotto i 9,10 intraday per il buy in essere a cui diamo</text>
<text class="tb" x="1126.6" y="97.1" textLength="403" lengthAdjust="spacing">spazio. Bene sopra i 9,55-9,6 insieme ai volumi con tanto</text>
<text class="tb" x="1126.6" y="114.4" textLength="223.5" lengthAdjust="spacing">spazio in quel caso per correre.</text>
<rect x="1525.5" y="561.5" width="206" height="12" fill="#fff" stroke="#000"/>
<text class="cp" x="1527" y="571.2" textLength="203" lengthAdjust="spacing">COPYRIGHT@LABORSADEIPICCOLI.COM</text>
</svg>
</body></html>
